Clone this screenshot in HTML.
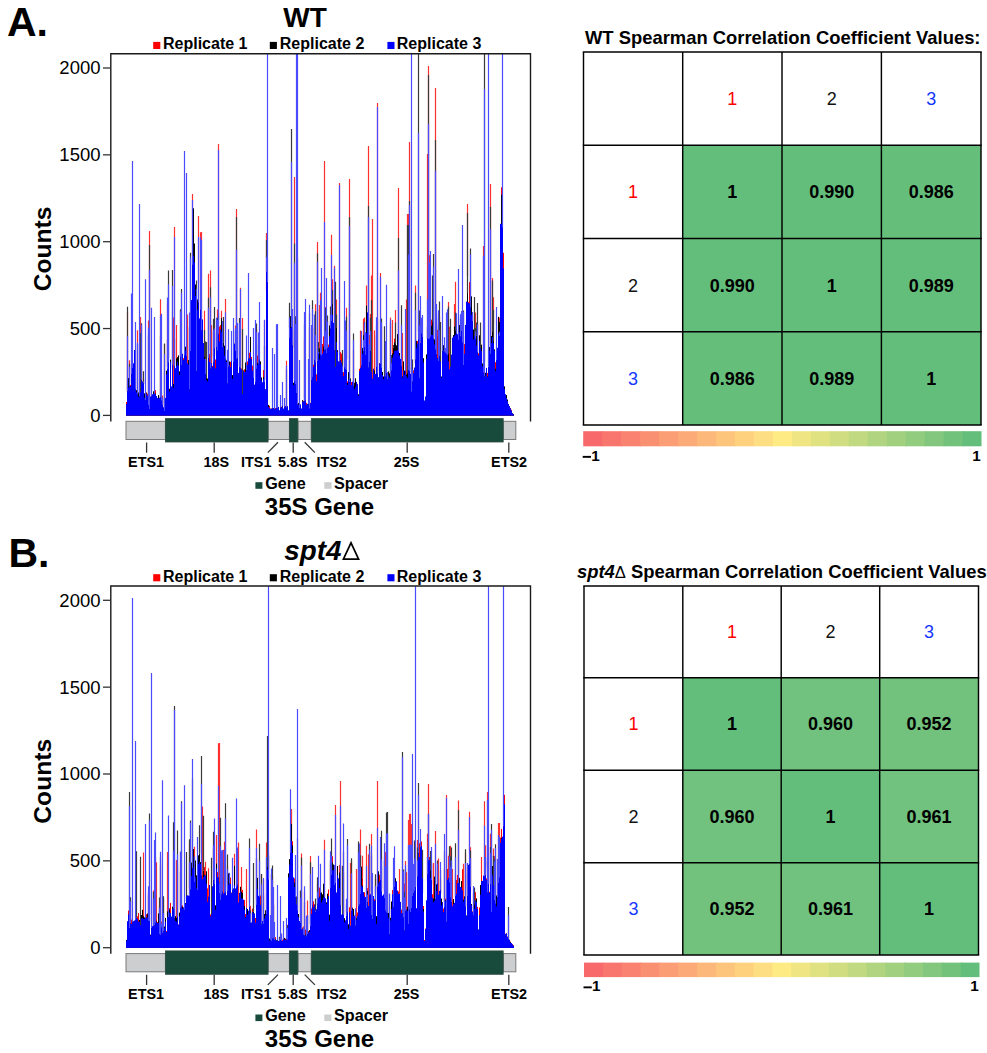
<!DOCTYPE html>
<html><head><meta charset="utf-8"><title>Figure</title>
<style>html,body{margin:0;padding:0;background:#fff;} body{width:987px;height:1053px;overflow:hidden;} svg{display:block;} text{font-family:"Liberation Sans", sans-serif;}</style>
</head><body>
<svg width="987" height="1053" viewBox="0 0 987 1053" font-family='"Liberation Sans", sans-serif' fill="#000">
<text x="7" y="35.9" font-size="41" font-weight="bold">A.</text>
<text x="8.5" y="567.1" font-size="41" font-weight="bold">B.</text>
<path stroke="#ff3030" stroke-width="1.2" fill="none" d="M127.5 390.9V311.7M129.5 386.2V360.2M137.5 397.2V330.2M140.5 393.7V316.9M141.5 386.9V326.7M143.5 384.5V378.7M148.5 405.7V320.5M149.5 408.2V230.9M152.5 396.1V395.0M160.5 397.5V299.2M162.5 406.7V395.6M164.5 410.8V344.6M167.5 366.7V303.5M173.5 385.5V317.5M174.5 360.3V227.0M176.5 364.5V325.0M180.5 355.3V340.9M187.5 363.4V314.4M189.5 395.0V326.4M192.5 255.8V194.0M193.5 279.0V256.4M198.5 283.2V216.0M200.5 324.8V232.3M201.5 352.2V232.0M204.5 357.1V310.7M205.5 376.7V355.6M208.5 350.8V273.7M210.5 368.8V270.6M211.5 367.8V325.0M213.5 358.5V332.0M216.5 356.6V333.1M217.5 343.5V309.5M218.5 336.2V144.0M221.5 326.8V310.8M225.5 348.3V299.0M227.5 387.1V360.4M235.5 354.7V325.6M236.5 353.5V209.0M239.5 355.2V330.2M240.5 368.0V287.7M242.5 391.5V318.0M256.5 370.8V329.1M258.5 357.8V351.6M264.5 378.9V320.6M266.5 290.9V233.0M286.5 407.2V360.7M292.5 347.9V321.0M294.5 382.7V177.0M295.5 378.5V348.4M297.5 405.1V258.0M304.5 397.7V339.7M309.5 409.5V328.6M314.5 365.1V324.3M315.5 366.5V304.3M317.5 359.4V242.0M318.5 359.7V349.2M319.5 368.9V305.0M320.5 347.0V292.8M324.5 361.8V161.0M325.5 360.4V307.1M327.5 339.6V332.0M330.5 341.8V322.3M331.5 316.5V234.8M332.5 334.9V279.3M334.5 358.2V265.7M336.5 351.8V299.6M339.5 354.9V183.0M342.5 363.8V358.2M345.5 374.8V334.9M346.5 359.4V307.7M349.5 383.5V179.0M353.5 388.6V349.7M360.5 368.8V330.5M363.5 357.3V318.8M364.5 340.6V317.5M365.5 360.3V335.3M366.5 327.7V285.4M368.5 366.6V146.0M369.5 354.0V335.1M370.5 346.1V314.0M371.5 378.3V275.6M372.5 382.5V219.0M374.5 372.9V330.5M376.5 374.0V325.2M377.5 371.1V103.0M380.5 361.0V273.0M381.5 359.8V326.7M385.5 368.8V341.9M387.5 381.2V378.3M390.5 368.3V317.4M391.5 370.3V365.5M392.5 352.4V320.0M393.5 358.1V356.2M395.5 337.9V310.0M398.5 353.2V188.0M402.5 376.3V333.0M406.5 382.2V299.6M407.5 379.6V214.0M408.5 377.4V214.0M409.5 366.3V142.0M411.5 386.4V359.0M412.5 379.4V376.4M415.5 363.3V285.4M419.5 379.2V322.2M421.5 341.4V318.6M427.5 339.8V154.0M428.5 346.8V66.0M429.5 338.7V255.2M435.5 345.2V88.0M436.5 363.0V324.2M437.5 336.0V330.0M438.5 371.4V313.3M439.5 354.7V316.4M444.5 352.3V350.9M445.5 366.0V350.9M447.5 360.9V337.6M448.5 363.1V302.0M449.5 370.2V326.8M454.5 331.2V304.0M455.5 337.7V281.7M460.5 344.0V342.7M461.5 324.0V322.4M463.5 352.9V336.5M467.5 276.0V204.0M471.5 314.6V310.7M472.5 319.5V315.7M475.5 344.5V312.4M477.5 341.6V322.6M483.5 370.6V246.0M490.5 359.9V184.0M492.5 337.6V278.0M493.5 323.8V297.2M498.5 334.1V318.0M499.5 337.2V317.5"/>
<path stroke="#ff0000" stroke-width="1" fill="none" d="M126.5 415.6V402.0M127.5 415.6V390.9M128.5 415.6V386.3M129.5 415.6V386.2M130.5 415.6V384.9M131.5 415.6V363.8M132.5 415.6V370.7M133.5 415.6V366.8M134.5 415.6V359.5M135.5 415.6V389.2M136.5 415.6V394.4M137.5 415.6V397.2M138.5 415.6V395.9M139.5 415.6V395.8M140.5 415.6V393.7M141.5 415.6V386.9M142.5 415.6V381.7M143.5 415.6V384.5M144.5 415.6V398.1M145.5 415.6V400.1M146.5 415.6V392.4M147.5 415.6V393.8M148.5 415.6V405.7M149.5 415.6V408.2M150.5 415.6V398.1M151.5 415.6V394.5M152.5 415.6V396.1M153.5 415.6V399.2M154.5 415.6V396.0M155.5 415.6V390.2M156.5 415.6V398.0M157.5 415.6V398.1M158.5 415.6V397.7M159.5 415.6V398.5M160.5 415.6V397.5M161.5 415.6V401.5M162.5 415.6V406.7M163.5 415.6V408.9M164.5 415.6V410.8M165.5 415.6V397.9M166.5 415.6V373.1M167.5 415.6V366.7M168.5 415.6V364.1M169.5 415.6V388.8M170.5 415.6V362.7M171.5 415.6V388.1M172.5 415.6V367.3M173.5 415.6V385.5M174.5 415.6V360.3M175.5 415.6V374.9M176.5 415.6V364.5M177.5 415.6V368.4M178.5 415.6V360.4M179.5 415.6V378.7M180.5 415.6V355.3M181.5 415.6V362.3M182.5 415.6V362.0M183.5 415.6V358.1M184.5 415.6V357.4M185.5 415.6V347.4M186.5 415.6V356.5M187.5 415.6V363.4M188.5 415.6V360.3M189.5 415.6V395.0M190.5 415.6V354.9M191.5 415.6V321.1M192.5 415.6V255.8M193.5 415.6V279.0M194.5 415.6V280.2M195.5 415.6V289.3M196.5 415.6V371.0M197.5 415.6V307.1M198.5 415.6V283.2M199.5 415.6V330.6M200.5 415.6V324.8M201.5 415.6V352.2M202.5 415.6V320.4M203.5 415.6V343.5M204.5 415.6V357.1M205.5 415.6V376.7M206.5 415.6V387.1M207.5 415.6V391.6M208.5 415.6V350.8M209.5 415.6V354.1M210.5 415.6V368.8M211.5 415.6V367.8M212.5 415.6V365.9M213.5 415.6V358.5M214.5 415.6V345.6M215.5 415.6V359.5M216.5 415.6V356.6M217.5 415.6V343.5M218.5 415.6V336.2M219.5 415.6V326.6M220.5 415.6V325.1M221.5 415.6V326.8M222.5 415.6V351.3M223.5 415.6V347.9M224.5 415.6V355.5M225.5 415.6V348.3M226.5 415.6V364.0M227.5 415.6V387.1M228.5 415.6V370.3M229.5 415.6V365.0M230.5 415.6V361.8M231.5 415.6V364.5M232.5 415.6V375.4M233.5 415.6V363.0M234.5 415.6V355.6M235.5 415.6V354.7M236.5 415.6V353.5M237.5 415.6V342.8M238.5 415.6V372.9M239.5 415.6V355.2M240.5 415.6V368.0M241.5 415.6V368.5M242.5 415.6V391.5M243.5 415.6V374.1M244.5 415.6V369.3M245.5 415.6V366.8M246.5 415.6V379.7M247.5 415.6V361.4M248.5 415.6V345.4M249.5 415.6V352.7M250.5 415.6V341.2M251.5 415.6V356.9M252.5 415.6V365.6M253.5 415.6V379.7M254.5 415.6V384.8M255.5 415.6V385.0M256.5 415.6V370.8M257.5 415.6V355.6M258.5 415.6V357.8M259.5 415.6V349.2M260.5 415.6V370.9M261.5 415.6V380.5M262.5 415.6V386.7M263.5 415.6V370.1M264.5 415.6V378.9M265.5 415.6V390.2M266.5 415.6V290.9M267.5 415.6V311.6M268.5 415.6V407.5M269.5 415.6V405.8M270.5 415.6V408.6M271.5 415.6V408.6M272.5 415.6V408.0M273.5 415.6V409.4M274.5 415.6V408.0M275.5 415.6V408.0M276.5 415.6V408.5M277.5 415.6V405.3M278.5 415.6V408.8M279.5 415.6V411.2M280.5 415.6V406.2M281.5 415.6V406.7M282.5 415.6V407.1M283.5 415.6V409.6M284.5 415.6V405.8M285.5 415.6V405.8M286.5 415.6V407.2M287.5 415.6V406.8M288.5 415.6V411.1M289.5 415.6V342.3M290.5 415.6V323.8M291.5 415.6V330.0M292.5 415.6V347.9M293.5 415.6V383.2M294.5 415.6V382.7M295.5 415.6V378.5M296.5 415.6V389.1M297.5 415.6V405.1M298.5 415.6V405.3M299.5 415.6V408.1M300.5 415.6V404.7M301.5 415.6V409.1M302.5 415.6V403.7M303.5 415.6V400.8M304.5 415.6V397.7M305.5 415.6V398.8M306.5 415.6V402.9M307.5 415.6V405.3M308.5 415.6V405.7M309.5 415.6V409.5M310.5 415.6V402.8M311.5 415.6V378.5M312.5 415.6V384.8M313.5 415.6V364.7M314.5 415.6V365.1M315.5 415.6V366.5M316.5 415.6V374.4M317.5 415.6V359.4M318.5 415.6V359.7M319.5 415.6V368.9M320.5 415.6V347.0M321.5 415.6V369.3M322.5 415.6V344.0M323.5 415.6V336.5M324.5 415.6V361.8M325.5 415.6V360.4M326.5 415.6V346.6M327.5 415.6V339.6M328.5 415.6V344.6M329.5 415.6V328.7M330.5 415.6V341.8M331.5 415.6V316.5M332.5 415.6V334.9M333.5 415.6V326.5M334.5 415.6V358.2M335.5 415.6V361.2M336.5 415.6V351.8M337.5 415.6V357.5M338.5 415.6V366.2M339.5 415.6V354.9M340.5 415.6V352.1M341.5 415.6V353.7M342.5 415.6V363.8M343.5 415.6V372.2M344.5 415.6V377.5M345.5 415.6V374.8M346.5 415.6V359.4M347.5 415.6V381.3M348.5 415.6V384.9M349.5 415.6V383.5M350.5 415.6V379.3M351.5 415.6V382.0M352.5 415.6V384.2M353.5 415.6V388.6M354.5 415.6V397.6M355.5 415.6V387.6M356.5 415.6V387.0M357.5 415.6V383.9M358.5 415.6V396.6M359.5 415.6V368.8M360.5 415.6V368.8M361.5 415.6V366.8M362.5 415.6V352.5M363.5 415.6V357.3M364.5 415.6V340.6M365.5 415.6V360.3M366.5 415.6V327.7M367.5 415.6V313.8M368.5 415.6V366.6M369.5 415.6V354.0M370.5 415.6V346.1M371.5 415.6V378.3M372.5 415.6V382.5M373.5 415.6V374.8M374.5 415.6V372.9M375.5 415.6V376.5M376.5 415.6V374.0M377.5 415.6V371.1M378.5 415.6V379.7M379.5 415.6V363.0M380.5 415.6V361.0M381.5 415.6V359.8M382.5 415.6V377.6M383.5 415.6V380.0M384.5 415.6V380.7M385.5 415.6V368.8M386.5 415.6V377.3M387.5 415.6V381.2M388.5 415.6V380.8M389.5 415.6V372.9M390.5 415.6V368.3M391.5 415.6V370.3M392.5 415.6V352.4M393.5 415.6V358.1M394.5 415.6V338.6M395.5 415.6V337.9M396.5 415.6V362.2M397.5 415.6V346.6M398.5 415.6V353.2M399.5 415.6V353.5M400.5 415.6V363.8M401.5 415.6V361.7M402.5 415.6V376.3M403.5 415.6V374.7M404.5 415.6V377.6M405.5 415.6V371.0M406.5 415.6V382.2M407.5 415.6V379.6M408.5 415.6V377.4M409.5 415.6V366.3M410.5 415.6V378.7M411.5 415.6V386.4M412.5 415.6V379.4M413.5 415.6V370.3M414.5 415.6V373.1M415.5 415.6V363.3M416.5 415.6V343.6M417.5 415.6V341.1M418.5 415.6V331.5M419.5 415.6V379.2M420.5 415.6V365.2M421.5 415.6V341.4M422.5 415.6V329.5M423.5 415.6V363.8M424.5 415.6V402.5M425.5 415.6V398.2M426.5 415.6V364.7M427.5 415.6V339.8M428.5 415.6V346.8M429.5 415.6V338.7M430.5 415.6V331.6M431.5 415.6V319.7M432.5 415.6V325.7M433.5 415.6V339.6M434.5 415.6V339.5M435.5 415.6V345.2M436.5 415.6V363.0M437.5 415.6V336.0M438.5 415.6V371.4M439.5 415.6V354.7M440.5 415.6V364.4M441.5 415.6V380.3M442.5 415.6V349.5M443.5 415.6V354.0M444.5 415.6V352.3M445.5 415.6V366.0M446.5 415.6V344.8M447.5 415.6V360.9M448.5 415.6V363.1M449.5 415.6V370.2M450.5 415.6V365.0M451.5 415.6V368.5M452.5 415.6V348.3M453.5 415.6V352.8M454.5 415.6V331.2M455.5 415.6V337.7M456.5 415.6V322.9M457.5 415.6V339.5M458.5 415.6V333.8M459.5 415.6V325.8M460.5 415.6V344.0M461.5 415.6V324.0M462.5 415.6V340.9M463.5 415.6V352.9M464.5 415.6V344.1M465.5 415.6V329.9M466.5 415.6V310.1M467.5 415.6V276.0M468.5 415.6V302.1M469.5 415.6V282.2M470.5 415.6V303.2M471.5 415.6V314.6M472.5 415.6V319.5M473.5 415.6V334.9M474.5 415.6V343.1M475.5 415.6V344.5M476.5 415.6V343.4M477.5 415.6V341.6M478.5 415.6V353.2M479.5 415.6V341.6M480.5 415.6V345.0M481.5 415.6V360.4M482.5 415.6V365.5M483.5 415.6V370.6M484.5 415.6V382.0M485.5 415.6V382.2M486.5 415.6V368.7M487.5 415.6V373.0M488.5 415.6V373.4M489.5 415.6V360.1M490.5 415.6V359.9M491.5 415.6V338.8M492.5 415.6V337.6M493.5 415.6V323.8M494.5 415.6V358.4M495.5 415.6V362.2M496.5 415.6V368.4M497.5 415.6V353.2M498.5 415.6V334.1M499.5 415.6V337.2M500.5 415.6V225.0M501.5 415.6V187.3M502.5 415.6V213.6M503.5 415.6V252.8M504.5 415.6V393.3M505.5 415.6V394.7M506.5 415.6V398.5M507.5 415.6V401.8M508.5 415.6V403.9M509.5 415.6V407.3M510.5 415.6V408.3M511.5 415.6V409.8M512.5 415.6V413.5M513.5 415.6V414.3"/>
<path stroke="#3a3a3a" stroke-width="1.2" fill="none" d="M127.5 392.4V306.7M129.5 383.0V363.8M137.5 395.0V344.0M140.5 398.1V333.0M141.5 383.9V323.2M143.5 383.4V371.2M148.5 404.6V335.3M149.5 407.9V245.0M160.5 398.2V336.2M162.5 403.8V397.7M164.5 410.6V343.6M167.5 367.0V339.6M168.5 358.0V270.6M172.5 368.8V270.0M174.5 368.2V338.8M180.5 357.8V309.2M181.5 359.1V289.0M189.5 389.8V327.6M190.5 362.2V252.7M196.5 361.2V280.5M204.5 356.7V330.0M205.5 372.0V341.5M206.5 378.1V342.0M208.5 358.0V297.8M210.5 376.0V287.3M213.5 356.8V318.7M214.5 354.7V307.0M217.5 345.0V317.5M218.5 320.2V312.9M223.5 342.8V317.0M227.5 383.4V357.7M235.5 355.5V330.9M236.5 357.2V217.0M239.5 365.9V317.9M242.5 397.0V329.0M256.5 369.1V323.5M258.5 351.6V344.8M264.5 380.1V346.1M266.5 258.0V240.0M286.5 407.0V369.5M289.5 327.5V302.7M291.5 333.7V129.0M292.5 347.6V330.5M294.5 378.7V243.5M295.5 383.9V316.3M304.5 403.0V324.5M309.5 408.8V312.9M312.5 388.1V300.2M314.5 365.7V327.9M315.5 376.8V311.3M317.5 359.7V253.3M318.5 356.2V342.0M325.5 354.7V308.1M327.5 334.5V315.6M330.5 331.5V306.5M332.5 304.0V290.0M335.5 370.2V281.7M336.5 327.6V314.4M342.5 373.2V350.0M345.5 360.0V331.2M346.5 358.5V316.8M349.5 388.7V217.0M353.5 387.7V333.6M364.5 347.5V322.1M365.5 370.1V334.8M368.5 368.3V206.0M369.5 360.5V345.8M370.5 339.6V317.7M371.5 381.9V300.0M376.5 369.9V335.6M377.5 376.1V318.8M381.5 369.9V318.6M384.5 380.3V326.2M385.5 376.7V347.5M387.5 379.6V372.4M390.5 376.5V323.3M391.5 370.0V355.1M393.5 347.6V345.0M395.5 344.2V322.5M398.5 346.0V238.0M401.5 359.7V305.2M407.5 373.2V225.0M408.5 371.0V225.0M409.5 380.8V201.0M411.5 396.7V366.8M412.5 381.8V359.5M415.5 364.0V292.8M418.5 332.3V54.0M419.5 377.9V310.4M421.5 336.9V321.7M427.5 338.3V327.3M428.5 340.6V75.0M432.5 322.1V275.6M433.5 338.3V254.0M435.5 354.5V140.0M436.5 352.3V317.8M438.5 356.3V326.6M439.5 357.4V301.5M440.5 363.5V321.9M444.5 359.9V346.6M447.5 359.5V323.2M448.5 353.5V306.4M450.5 370.5V318.8M455.5 330.7V312.6M460.5 340.1V318.1M461.5 324.8V316.5M463.5 362.0V310.6M467.5 293.5V213.0M470.5 323.2V248.4M474.5 344.9V297.0M475.5 339.8V327.9M476.5 335.6V322.5M477.5 358.9V302.9M480.5 359.0V322.5M484.5 361.6V54.0M490.5 350.8V207.0M492.5 331.9V280.5M493.5 341.5V310.0"/>
<path stroke="#000000" stroke-width="1" fill="none" d="M126.5 415.6V404.2M127.5 415.6V392.4M128.5 415.6V378.1M129.5 415.6V383.0M130.5 415.6V386.2M131.5 415.6V373.0M132.5 415.6V366.1M133.5 415.6V375.8M134.5 415.6V362.5M135.5 415.6V388.9M136.5 415.6V390.2M137.5 415.6V395.0M138.5 415.6V392.5M139.5 415.6V393.2M140.5 415.6V398.1M141.5 415.6V383.9M142.5 415.6V384.3M143.5 415.6V383.4M144.5 415.6V393.4M145.5 415.6V400.2M146.5 415.6V393.2M147.5 415.6V397.5M148.5 415.6V404.6M149.5 415.6V407.9M150.5 415.6V396.8M151.5 415.6V397.0M152.5 415.6V394.6M153.5 415.6V391.3M154.5 415.6V393.7M155.5 415.6V393.8M156.5 415.6V396.0M157.5 415.6V400.6M158.5 415.6V395.1M159.5 415.6V398.6M160.5 415.6V398.2M161.5 415.6V399.4M162.5 415.6V403.8M163.5 415.6V408.5M164.5 415.6V410.6M165.5 415.6V398.4M166.5 415.6V370.7M167.5 415.6V367.0M168.5 415.6V358.0M169.5 415.6V388.9M170.5 415.6V359.6M171.5 415.6V392.8M172.5 415.6V368.8M173.5 415.6V384.1M174.5 415.6V368.2M175.5 415.6V370.2M176.5 415.6V358.5M177.5 415.6V357.1M178.5 415.6V355.4M179.5 415.6V371.3M180.5 415.6V357.8M181.5 415.6V359.1M182.5 415.6V356.6M183.5 415.6V360.1M184.5 415.6V356.2M185.5 415.6V346.7M186.5 415.6V355.7M187.5 415.6V367.1M188.5 415.6V360.1M189.5 415.6V389.8M190.5 415.6V362.2M191.5 415.6V307.6M192.5 415.6V276.9M193.5 415.6V208.3M194.5 415.6V243.5M195.5 415.6V284.5M196.5 415.6V361.2M197.5 415.6V299.5M198.5 415.6V311.9M199.5 415.6V322.2M200.5 415.6V310.9M201.5 415.6V337.4M202.5 415.6V328.0M203.5 415.6V343.2M204.5 415.6V356.7M205.5 415.6V372.0M206.5 415.6V378.1M207.5 415.6V378.5M208.5 415.6V358.0M209.5 415.6V363.1M210.5 415.6V376.0M211.5 415.6V372.3M212.5 415.6V376.6M213.5 415.6V356.8M214.5 415.6V354.7M215.5 415.6V371.2M216.5 415.6V342.3M217.5 415.6V345.0M218.5 415.6V320.2M219.5 415.6V344.6M220.5 415.6V333.8M221.5 415.6V318.0M222.5 415.6V347.7M223.5 415.6V342.8M224.5 415.6V345.7M225.5 415.6V357.2M226.5 415.6V360.3M227.5 415.6V383.4M228.5 415.6V359.2M229.5 415.6V361.5M230.5 415.6V370.0M231.5 415.6V357.1M232.5 415.6V375.2M233.5 415.6V356.9M234.5 415.6V347.9M235.5 415.6V355.5M236.5 415.6V357.2M237.5 415.6V363.5M238.5 415.6V376.7M239.5 415.6V365.9M240.5 415.6V370.6M241.5 415.6V370.3M242.5 415.6V397.0M243.5 415.6V370.5M244.5 415.6V383.2M245.5 415.6V362.5M246.5 415.6V372.1M247.5 415.6V367.6M248.5 415.6V355.3M249.5 415.6V363.2M250.5 415.6V336.9M251.5 415.6V372.2M252.5 415.6V380.7M253.5 415.6V388.2M254.5 415.6V388.1M255.5 415.6V376.6M256.5 415.6V369.1M257.5 415.6V362.8M258.5 415.6V351.6M259.5 415.6V369.2M260.5 415.6V361.4M261.5 415.6V377.5M262.5 415.6V388.4M263.5 415.6V377.1M264.5 415.6V380.1M265.5 415.6V392.8M266.5 415.6V258.0M267.5 415.6V315.7M268.5 415.6V404.9M269.5 415.6V408.4M270.5 415.6V408.9M271.5 415.6V408.7M272.5 415.6V407.3M273.5 415.6V408.0M274.5 415.6V409.5M275.5 415.6V409.0M276.5 415.6V407.0M277.5 415.6V408.7M278.5 415.6V407.0M279.5 415.6V410.6M280.5 415.6V406.4M281.5 415.6V407.6M282.5 415.6V406.2M283.5 415.6V410.1M284.5 415.6V407.1M285.5 415.6V408.4M286.5 415.6V407.0M287.5 415.6V406.7M288.5 415.6V410.7M289.5 415.6V327.5M290.5 415.6V316.2M291.5 415.6V333.7M292.5 415.6V347.6M293.5 415.6V382.8M294.5 415.6V378.7M295.5 415.6V383.9M296.5 415.6V391.2M297.5 415.6V405.9M298.5 415.6V403.1M299.5 415.6V407.9M300.5 415.6V405.8M301.5 415.6V409.3M302.5 415.6V400.2M303.5 415.6V402.1M304.5 415.6V403.0M305.5 415.6V402.1M306.5 415.6V405.6M307.5 415.6V403.9M308.5 415.6V403.2M309.5 415.6V408.8M310.5 415.6V404.2M311.5 415.6V377.2M312.5 415.6V388.1M313.5 415.6V369.7M314.5 415.6V365.7M315.5 415.6V376.8M316.5 415.6V382.0M317.5 415.6V359.7M318.5 415.6V356.2M319.5 415.6V348.3M320.5 415.6V353.9M321.5 415.6V355.9M322.5 415.6V359.6M323.5 415.6V346.5M324.5 415.6V344.0M325.5 415.6V354.7M326.5 415.6V370.7M327.5 415.6V334.5M328.5 415.6V351.2M329.5 415.6V325.5M330.5 415.6V331.5M331.5 415.6V314.5M332.5 415.6V304.0M333.5 415.6V325.9M334.5 415.6V341.4M335.5 415.6V370.2M336.5 415.6V327.6M337.5 415.6V350.2M338.5 415.6V361.6M339.5 415.6V374.6M340.5 415.6V360.4M341.5 415.6V367.9M342.5 415.6V373.2M343.5 415.6V376.9M344.5 415.6V367.5M345.5 415.6V360.0M346.5 415.6V358.5M347.5 415.6V383.1M348.5 415.6V372.2M349.5 415.6V388.7M350.5 415.6V378.4M351.5 415.6V389.1M352.5 415.6V389.2M353.5 415.6V387.7M354.5 415.6V382.8M355.5 415.6V378.3M356.5 415.6V383.7M357.5 415.6V388.3M358.5 415.6V394.3M359.5 415.6V379.8M360.5 415.6V368.6M361.5 415.6V366.7M362.5 415.6V347.9M363.5 415.6V335.2M364.5 415.6V347.5M365.5 415.6V370.1M366.5 415.6V305.7M367.5 415.6V320.6M368.5 415.6V368.3M369.5 415.6V360.5M370.5 415.6V339.6M371.5 415.6V381.9M372.5 415.6V381.1M373.5 415.6V371.4M374.5 415.6V370.4M375.5 415.6V379.0M376.5 415.6V369.9M377.5 415.6V376.1M378.5 415.6V380.3M379.5 415.6V363.9M380.5 415.6V374.8M381.5 415.6V369.9M382.5 415.6V371.9M383.5 415.6V376.5M384.5 415.6V380.3M385.5 415.6V376.7M386.5 415.6V373.4M387.5 415.6V379.6M388.5 415.6V371.4M389.5 415.6V374.1M390.5 415.6V376.5M391.5 415.6V370.0M392.5 415.6V353.7M393.5 415.6V347.6M394.5 415.6V342.4M395.5 415.6V344.2M396.5 415.6V345.4M397.5 415.6V334.1M398.5 415.6V346.0M399.5 415.6V353.1M400.5 415.6V366.3M401.5 415.6V359.7M402.5 415.6V376.5M403.5 415.6V361.4M404.5 415.6V370.6M405.5 415.6V380.1M406.5 415.6V374.6M407.5 415.6V373.2M408.5 415.6V371.0M409.5 415.6V380.8M410.5 415.6V378.8M411.5 415.6V396.7M412.5 415.6V381.8M413.5 415.6V382.8M414.5 415.6V369.1M415.5 415.6V364.0M416.5 415.6V340.8M417.5 415.6V346.3M418.5 415.6V332.3M419.5 415.6V377.9M420.5 415.6V353.8M421.5 415.6V336.9M422.5 415.6V333.8M423.5 415.6V358.2M424.5 415.6V401.4M425.5 415.6V398.6M426.5 415.6V354.4M427.5 415.6V338.3M428.5 415.6V340.6M429.5 415.6V343.8M430.5 415.6V348.9M431.5 415.6V325.8M432.5 415.6V322.1M433.5 415.6V338.3M434.5 415.6V339.6M435.5 415.6V354.5M436.5 415.6V352.3M437.5 415.6V358.1M438.5 415.6V356.3M439.5 415.6V357.4M440.5 415.6V363.5M441.5 415.6V376.5M442.5 415.6V350.0M443.5 415.6V345.2M444.5 415.6V359.9M445.5 415.6V348.3M446.5 415.6V353.2M447.5 415.6V359.5M448.5 415.6V353.5M449.5 415.6V373.9M450.5 415.6V370.5M451.5 415.6V362.5M452.5 415.6V345.1M453.5 415.6V335.1M454.5 415.6V326.6M455.5 415.6V330.7M456.5 415.6V324.9M457.5 415.6V346.6M458.5 415.6V342.0M459.5 415.6V325.1M460.5 415.6V340.1M461.5 415.6V324.8M462.5 415.6V343.8M463.5 415.6V362.0M464.5 415.6V354.1M465.5 415.6V334.8M466.5 415.6V304.3M467.5 415.6V293.5M468.5 415.6V323.7M469.5 415.6V315.7M470.5 415.6V323.2M471.5 415.6V296.3M472.5 415.6V324.3M473.5 415.6V329.5M474.5 415.6V344.9M475.5 415.6V339.8M476.5 415.6V335.6M477.5 415.6V358.9M478.5 415.6V363.2M479.5 415.6V335.3M480.5 415.6V359.0M481.5 415.6V344.7M482.5 415.6V363.5M483.5 415.6V375.9M484.5 415.6V361.6M485.5 415.6V372.8M486.5 415.6V376.5M487.5 415.6V376.6M488.5 415.6V373.0M489.5 415.6V347.1M490.5 415.6V350.8M491.5 415.6V336.0M492.5 415.6V331.9M493.5 415.6V341.5M494.5 415.6V349.4M495.5 415.6V368.8M496.5 415.6V347.3M497.5 415.6V357.8M498.5 415.6V316.8M499.5 415.6V322.1M500.5 415.6V232.0M501.5 415.6V194.8M502.5 415.6V217.9M503.5 415.6V296.4M504.5 415.6V386.3M505.5 415.6V395.1M506.5 415.6V395.1M507.5 415.6V399.5M508.5 415.6V404.3M509.5 415.6V406.3M510.5 415.6V408.6M511.5 415.6V411.7M512.5 415.6V413.4M513.5 415.6V414.3"/>
<path stroke="#4a4aff" stroke-width="1.2" fill="none" d="M127.5 391.2V336.2M129.5 386.3V366.8M131.5 374.3V293.5M132.5 368.0V161.0M135.5 388.4V321.9M137.5 394.4V342.7M139.5 396.2V204.0M141.5 379.9V324.4M143.5 383.6V381.7M145.5 400.2V279.3M148.5 405.0V327.5M149.5 409.0V270.0M151.5 396.4V307.7M154.5 393.5V316.9M160.5 397.4V315.4M161.5 400.7V313.8M162.5 404.9V397.6M164.5 410.9V354.1M167.5 369.3V297.6M168.5 362.8V284.2M172.5 364.9V286.0M174.5 366.1V237.0M180.5 356.8V311.3M181.5 365.2V292.8M184.5 355.1V151.0M186.5 356.6V173.0M189.5 389.3V312.4M190.5 351.2V257.0M192.5 264.8V200.0M196.5 371.1V289.0M198.5 302.5V237.0M200.5 309.6V237.3M201.5 330.2V240.0M205.5 374.4V359.1M208.5 358.1V307.7M210.5 368.6V297.0M213.5 362.7V329.7M214.5 348.4V328.6M216.5 346.9V317.8M217.5 350.8V320.0M218.5 334.6V150.0M222.5 347.0V321.0M225.5 359.5V312.6M227.5 383.6V349.7M228.5 366.7V329.3M231.5 360.9V331.0M233.5 362.1V318.0M235.5 351.1V328.6M236.5 359.6V249.6M237.5 358.0V323.0M239.5 367.0V323.0M240.5 367.8V289.0M246.5 369.6V335.4M248.5 358.8V273.0M253.5 377.4V328.0M255.5 381.9V320.0M256.5 368.8V331.9M258.5 363.8V332.4M259.5 359.5V302.0M264.5 382.2V319.8M266.5 271.9V257.0M267.5 281.6V54.0M272.5 408.1V348.0M274.5 409.3V354.0M276.5 408.2V324.3M277.5 408.0V324.0M280.5 407.7V395.0M282.5 406.2V382.0M284.5 407.2V398.0M286.5 407.8V365.5M289.5 338.1V317.5M291.5 327.0V162.0M292.5 345.3V309.0M294.5 381.6V263.0M295.5 384.2V324.1M296.5 393.3V54.0M297.5 404.4V54.0M299.5 408.4V360.0M304.5 401.3V312.0M305.5 400.5V299.0M308.5 404.2V359.0M309.5 408.7V304.8M311.5 380.5V325.0M312.5 377.3V309.0M314.5 360.0V314.4M315.5 362.4V334.9M317.5 361.2V262.0M318.5 353.7V352.0M320.5 354.7V300.0M321.5 355.3V268.1M324.5 350.4V222.0M325.5 349.3V331.0M326.5 353.2V278.0M327.5 348.4V321.6M330.5 328.6V314.4M331.5 321.5V255.0M334.5 349.9V267.5M339.5 361.5V185.0M342.5 372.3V366.3M344.5 367.3V281.1M345.5 369.4V320.4M346.5 370.4V330.8M349.5 382.1V226.0M353.5 386.1V340.1M361.5 365.1V331.0M363.5 351.1V339.9M364.5 347.5V322.7M365.5 354.9V332.2M368.5 367.6V217.0M369.5 362.2V344.4M370.5 351.2V331.0M376.5 367.0V317.3M377.5 373.8V107.0M380.5 363.9V276.8M381.5 368.0V322.2M385.5 376.8V341.0M386.5 373.1V284.8M387.5 379.5V371.9M390.5 376.8V319.6M391.5 370.7V363.2M398.5 351.9V270.6M401.5 365.9V325.0M405.5 371.3V308.9M408.5 370.1V254.6M409.5 371.2V205.0M411.5 391.7V54.0M412.5 381.6V369.6M415.5 359.7V310.0M418.5 339.8V133.0M419.5 378.0V325.6M420.5 342.6V296.0M421.5 333.7V317.7M422.5 337.5V315.0M427.5 338.5V299.2M428.5 339.1V124.0M429.5 338.5V263.0M430.5 336.7V250.9M433.5 338.4V267.0M435.5 349.7V171.0M436.5 354.7V304.0M438.5 360.9V310.2M439.5 355.9V330.3M442.5 351.5V296.0M444.5 351.8V337.2M445.5 352.9V348.0M446.5 353.9V312.6M447.5 355.0V309.3M456.5 333.7V313.3M458.5 339.9V269.0M460.5 336.5V314.3M461.5 331.0V311.1M462.5 342.6V225.0M463.5 365.0V312.0M470.5 307.5V254.6M472.5 321.3V312.1M475.5 338.8V331.5M477.5 352.2V324.2M483.5 372.5V255.8M484.5 376.7V89.0M488.5 366.8V54.0M490.5 354.3V229.0M496.5 360.1V307.0M499.5 336.6V331.7M502.5 227.8V54.0"/>
<path stroke="#2a2aff" stroke-width="1" fill="none" d=""/>
<path stroke="#0000ff" stroke-width="1" fill="none" d="M126.5 415.6V404.2M127.5 415.6V391.2M128.5 415.6V387.4M129.5 415.6V386.3M130.5 415.6V386.5M131.5 415.6V374.3M132.5 415.6V368.0M133.5 415.6V363.3M134.5 415.6V350.0M135.5 415.6V388.4M136.5 415.6V392.4M137.5 415.6V394.4M138.5 415.6V396.8M139.5 415.6V396.2M140.5 415.6V392.3M141.5 415.6V379.9M142.5 415.6V381.6M143.5 415.6V383.6M144.5 415.6V397.9M145.5 415.6V400.2M146.5 415.6V393.9M147.5 415.6V395.5M148.5 415.6V405.0M149.5 415.6V409.0M150.5 415.6V396.6M151.5 415.6V396.4M152.5 415.6V394.5M153.5 415.6V393.9M154.5 415.6V393.5M155.5 415.6V394.3M156.5 415.6V396.1M157.5 415.6V397.9M158.5 415.6V398.4M159.5 415.6V397.7M160.5 415.6V397.4M161.5 415.6V400.7M162.5 415.6V404.9M163.5 415.6V407.3M164.5 415.6V410.9M165.5 415.6V398.1M166.5 415.6V374.4M167.5 415.6V369.3M168.5 415.6V362.8M169.5 415.6V391.4M170.5 415.6V361.8M171.5 415.6V386.4M172.5 415.6V364.9M173.5 415.6V387.9M174.5 415.6V366.1M175.5 415.6V368.2M176.5 415.6V365.8M177.5 415.6V361.6M178.5 415.6V365.5M179.5 415.6V375.0M180.5 415.6V356.8M181.5 415.6V365.2M182.5 415.6V353.8M183.5 415.6V360.1M184.5 415.6V355.1M185.5 415.6V350.6M186.5 415.6V356.6M187.5 415.6V363.3M188.5 415.6V364.6M189.5 415.6V389.3M190.5 415.6V351.2M191.5 415.6V300.1M192.5 415.6V264.8M193.5 415.6V255.7M194.5 415.6V262.3M195.5 415.6V296.0M196.5 415.6V371.1M197.5 415.6V309.9M198.5 415.6V302.5M199.5 415.6V318.4M200.5 415.6V309.6M201.5 415.6V330.2M202.5 415.6V319.4M203.5 415.6V343.2M204.5 415.6V358.9M205.5 415.6V374.4M206.5 415.6V380.0M207.5 415.6V381.4M208.5 415.6V358.1M209.5 415.6V361.8M210.5 415.6V368.6M211.5 415.6V363.3M212.5 415.6V367.1M213.5 415.6V362.7M214.5 415.6V348.4M215.5 415.6V368.4M216.5 415.6V346.9M217.5 415.6V350.8M218.5 415.6V334.6M219.5 415.6V341.5M220.5 415.6V329.5M221.5 415.6V332.2M222.5 415.6V347.0M223.5 415.6V346.6M224.5 415.6V355.6M225.5 415.6V359.5M226.5 415.6V362.0M227.5 415.6V383.6M228.5 415.6V366.7M229.5 415.6V365.0M230.5 415.6V367.2M231.5 415.6V360.9M232.5 415.6V378.9M233.5 415.6V362.1M234.5 415.6V343.6M235.5 415.6V351.1M236.5 415.6V359.6M237.5 415.6V358.0M238.5 415.6V373.0M239.5 415.6V367.0M240.5 415.6V367.8M241.5 415.6V369.4M242.5 415.6V394.1M243.5 415.6V370.7M244.5 415.6V372.1M245.5 415.6V371.8M246.5 415.6V369.6M247.5 415.6V365.0M248.5 415.6V358.8M249.5 415.6V358.3M250.5 415.6V352.0M251.5 415.6V359.2M252.5 415.6V370.8M253.5 415.6V377.4M254.5 415.6V384.7M255.5 415.6V381.9M256.5 415.6V368.8M257.5 415.6V364.9M258.5 415.6V363.8M259.5 415.6V359.5M260.5 415.6V364.4M261.5 415.6V380.4M262.5 415.6V382.2M263.5 415.6V379.3M264.5 415.6V382.2M265.5 415.6V389.1M266.5 415.6V271.9M267.5 415.6V281.6M268.5 415.6V407.1M269.5 415.6V407.7M270.5 415.6V408.9M271.5 415.6V409.2M272.5 415.6V408.1M273.5 415.6V408.2M274.5 415.6V409.3M275.5 415.6V408.8M276.5 415.6V408.2M277.5 415.6V408.0M278.5 415.6V407.2M279.5 415.6V410.3M280.5 415.6V407.7M281.5 415.6V407.6M282.5 415.6V406.2M283.5 415.6V408.6M284.5 415.6V407.2M285.5 415.6V406.4M286.5 415.6V407.8M287.5 415.6V406.3M288.5 415.6V410.4M289.5 415.6V338.1M290.5 415.6V328.1M291.5 415.6V327.0M292.5 415.6V345.3M293.5 415.6V385.0M294.5 415.6V381.6M295.5 415.6V384.2M296.5 415.6V393.3M297.5 415.6V404.4M298.5 415.6V404.7M299.5 415.6V408.4M300.5 415.6V404.5M301.5 415.6V408.5M302.5 415.6V401.7M303.5 415.6V401.6M304.5 415.6V401.3M305.5 415.6V400.5M306.5 415.6V404.7M307.5 415.6V404.2M308.5 415.6V404.2M309.5 415.6V408.7M310.5 415.6V403.2M311.5 415.6V380.5M312.5 415.6V377.3M313.5 415.6V366.9M314.5 415.6V360.0M315.5 415.6V362.4M316.5 415.6V380.9M317.5 415.6V361.2M318.5 415.6V353.7M319.5 415.6V359.4M320.5 415.6V354.7M321.5 415.6V355.3M322.5 415.6V353.9M323.5 415.6V351.3M324.5 415.6V350.4M325.5 415.6V349.3M326.5 415.6V353.2M327.5 415.6V348.4M328.5 415.6V347.1M329.5 415.6V336.2M330.5 415.6V328.6M331.5 415.6V321.5M332.5 415.6V315.1M333.5 415.6V322.8M334.5 415.6V349.9M335.5 415.6V366.8M336.5 415.6V342.1M337.5 415.6V351.6M338.5 415.6V361.5M339.5 415.6V361.5M340.5 415.6V360.5M341.5 415.6V362.7M342.5 415.6V372.3M343.5 415.6V376.2M344.5 415.6V367.3M345.5 415.6V369.4M346.5 415.6V370.4M347.5 415.6V384.8M348.5 415.6V379.7M349.5 415.6V382.1M350.5 415.6V380.7M351.5 415.6V385.0M352.5 415.6V381.7M353.5 415.6V386.1M354.5 415.6V389.3M355.5 415.6V386.8M356.5 415.6V381.9M357.5 415.6V384.4M358.5 415.6V395.8M359.5 415.6V370.9M360.5 415.6V367.6M361.5 415.6V365.1M362.5 415.6V353.9M363.5 415.6V351.1M364.5 415.6V347.5M365.5 415.6V354.9M366.5 415.6V333.3M367.5 415.6V312.4M368.5 415.6V367.6M369.5 415.6V362.2M370.5 415.6V351.2M371.5 415.6V372.2M372.5 415.6V378.8M373.5 415.6V368.7M374.5 415.6V374.0M375.5 415.6V373.9M376.5 415.6V367.0M377.5 415.6V373.8M378.5 415.6V377.1M379.5 415.6V363.6M380.5 415.6V363.9M381.5 415.6V368.0M382.5 415.6V375.0M383.5 415.6V379.2M384.5 415.6V376.1M385.5 415.6V376.8M386.5 415.6V373.1M387.5 415.6V379.5M388.5 415.6V375.4M389.5 415.6V377.5M390.5 415.6V376.8M391.5 415.6V370.7M392.5 415.6V357.7M393.5 415.6V354.5M394.5 415.6V350.9M395.5 415.6V350.7M396.5 415.6V350.5M397.5 415.6V350.3M398.5 415.6V351.9M399.5 415.6V355.4M400.5 415.6V358.9M401.5 415.6V365.9M402.5 415.6V377.6M403.5 415.6V370.5M404.5 415.6V374.7M405.5 415.6V371.3M406.5 415.6V376.3M407.5 415.6V377.9M408.5 415.6V370.1M409.5 415.6V371.2M410.5 415.6V373.8M411.5 415.6V391.7M412.5 415.6V381.6M413.5 415.6V373.2M414.5 415.6V367.5M415.5 415.6V359.7M416.5 415.6V348.4M417.5 415.6V343.6M418.5 415.6V339.8M419.5 415.6V378.0M420.5 415.6V342.6M421.5 415.6V333.7M422.5 415.6V337.5M423.5 415.6V362.4M424.5 415.6V400.5M425.5 415.6V396.5M426.5 415.6V359.1M427.5 415.6V338.5M428.5 415.6V339.1M429.5 415.6V338.5M430.5 415.6V336.7M431.5 415.6V334.9M432.5 415.6V335.0M433.5 415.6V338.4M434.5 415.6V344.5M435.5 415.6V349.7M436.5 415.6V354.7M437.5 415.6V358.8M438.5 415.6V360.9M439.5 415.6V355.9M440.5 415.6V361.2M441.5 415.6V377.6M442.5 415.6V351.5M443.5 415.6V350.4M444.5 415.6V351.8M445.5 415.6V352.9M446.5 415.6V353.9M447.5 415.6V355.0M448.5 415.6V361.2M449.5 415.6V369.4M450.5 415.6V366.6M451.5 415.6V354.7M452.5 415.6V337.7M453.5 415.6V336.7M454.5 415.6V335.6M455.5 415.6V334.5M456.5 415.6V333.7M457.5 415.6V334.2M458.5 415.6V339.9M459.5 415.6V332.1M460.5 415.6V336.5M461.5 415.6V331.0M462.5 415.6V342.6M463.5 415.6V365.0M464.5 415.6V353.8M465.5 415.6V324.9M466.5 415.6V301.6M467.5 415.6V302.2M468.5 415.6V302.8M469.5 415.6V303.4M470.5 415.6V307.5M471.5 415.6V315.1M472.5 415.6V321.3M473.5 415.6V339.4M474.5 415.6V336.0M475.5 415.6V338.8M476.5 415.6V345.7M477.5 415.6V352.2M478.5 415.6V355.4M479.5 415.6V341.0M480.5 415.6V348.1M481.5 415.6V351.1M482.5 415.6V366.6M483.5 415.6V372.5M484.5 415.6V376.7M485.5 415.6V375.5M486.5 415.6V367.9M487.5 415.6V376.8M488.5 415.6V366.8M489.5 415.6V350.7M490.5 415.6V354.3M491.5 415.6V343.1M492.5 415.6V337.1M493.5 415.6V343.1M494.5 415.6V350.7M495.5 415.6V371.4M496.5 415.6V360.1M497.5 415.6V347.8M498.5 415.6V333.4M499.5 415.6V336.6M500.5 415.6V223.8M501.5 415.6V223.8M502.5 415.6V227.8M503.5 415.6V268.5M504.5 415.6V389.0M505.5 415.6V394.2M506.5 415.6V398.1M507.5 415.6V401.1M508.5 415.6V404.2M509.5 415.6V406.3M510.5 415.6V408.5M511.5 415.6V410.6M512.5 415.6V413.4M513.5 415.6V414.3"/>
<path d="M110.8 421.5V53.7H530.5V421.5" fill="none" stroke="#1a1a1a" stroke-width="1.4"/>
<line x1="103" y1="68.00" x2="110.8" y2="68.00" stroke="#333" stroke-width="1.3"/>
<text x="100.5" y="74.40" text-anchor="end" font-size="18.5">2000</text>
<line x1="103" y1="154.85" x2="110.8" y2="154.85" stroke="#333" stroke-width="1.3"/>
<text x="100.5" y="161.25" text-anchor="end" font-size="18.5">1500</text>
<line x1="103" y1="241.70" x2="110.8" y2="241.70" stroke="#333" stroke-width="1.3"/>
<text x="100.5" y="248.10" text-anchor="end" font-size="18.5">1000</text>
<line x1="103" y1="328.55" x2="110.8" y2="328.55" stroke="#333" stroke-width="1.3"/>
<text x="100.5" y="334.95" text-anchor="end" font-size="18.5">500</text>
<line x1="103" y1="415.40" x2="110.8" y2="415.40" stroke="#333" stroke-width="1.3"/>
<text x="100.5" y="421.80" text-anchor="end" font-size="18.5">0</text>
<text transform="translate(51 249) rotate(-90)" text-anchor="middle" font-size="24.6" font-weight="bold">Counts</text>
<rect x="153.2" y="41.9" width="7.1" height="7.1" fill="#ff0000"/>
<text x="163" y="49.2" font-size="16" font-weight="bold">Replicate 1</text>
<rect x="269.8" y="41.9" width="7.1" height="7.1" fill="#000"/>
<text x="279.8" y="49.2" font-size="16" font-weight="bold">Replicate 2</text>
<rect x="387.4" y="41.9" width="7.1" height="7.1" fill="#0000ff"/>
<text x="396.8" y="49.2" font-size="16" font-weight="bold">Replicate 3</text>
<text x="305" y="26.7" text-anchor="middle" font-size="28" font-weight="bold">WT</text>
<rect x="126" y="421.3" width="39.4" height="18.2" fill="#cdcecf" stroke="#7a7a7a" stroke-width="1"/>
<rect x="268.1" y="421.3" width="21.3" height="18.2" fill="#cdcecf" stroke="#7a7a7a" stroke-width="1"/>
<rect x="297.9" y="421.3" width="13.4" height="18.2" fill="#cdcecf" stroke="#7a7a7a" stroke-width="1"/>
<rect x="503.2" y="421.3" width="12.6" height="18.2" fill="#cdcecf" stroke="#7a7a7a" stroke-width="1"/>
<rect x="165.4" y="418.6" width="102.7" height="23.4" fill="#184b3b" stroke="#2e4a40" stroke-width="0.8"/>
<rect x="289.4" y="418.6" width="8.5" height="23.4" fill="#184b3b" stroke="#2e4a40" stroke-width="0.8"/>
<rect x="311.3" y="418.6" width="191.9" height="23.4" fill="#184b3b" stroke="#2e4a40" stroke-width="0.8"/>
<line x1="146.6" y1="442.5" x2="146.6" y2="452.7" stroke="#333" stroke-width="1.3"/>
<line x1="214.2" y1="442.5" x2="214.2" y2="452.7" stroke="#333" stroke-width="1.3"/>
<line x1="293.2" y1="442.5" x2="293.2" y2="452.7" stroke="#333" stroke-width="1.3"/>
<line x1="407.2" y1="442.5" x2="407.2" y2="452.7" stroke="#333" stroke-width="1.3"/>
<line x1="508.8" y1="442.5" x2="508.8" y2="452.7" stroke="#333" stroke-width="1.3"/>
<line x1="278" y1="442.3" x2="267.8" y2="452.6" stroke="#333" stroke-width="1.3"/>
<line x1="304.7" y1="442.3" x2="314.9" y2="452.6" stroke="#333" stroke-width="1.3"/>
<text x="146.1" y="466.5" text-anchor="middle" font-size="14.4" font-weight="bold">ETS1</text>
<text x="216.2" y="466.5" text-anchor="middle" font-size="14.4" font-weight="bold">18S</text>
<text x="256.2" y="466.5" text-anchor="middle" font-size="14.4" font-weight="bold">ITS1</text>
<text x="292.7" y="466.5" text-anchor="middle" font-size="14.4" font-weight="bold">5.8S</text>
<text x="331.6" y="466.5" text-anchor="middle" font-size="14.4" font-weight="bold">ITS2</text>
<text x="406.6" y="466.5" text-anchor="middle" font-size="14.4" font-weight="bold">25S</text>
<text x="509.1" y="466.5" text-anchor="middle" font-size="14.4" font-weight="bold">ETS2</text>
<rect x="255.4" y="482.2" width="7" height="6.6" fill="#184b3b"/>
<text x="265.2" y="489" font-size="16.2" font-weight="bold">Gene</text>
<rect x="324.3" y="482.2" width="7.2" height="6.6" fill="#cdcecf"/>
<text x="334" y="489" font-size="16.2" font-weight="bold">Spacer</text>
<text x="264.8" y="514.9" font-size="24" font-weight="bold">35S Gene</text>
<path stroke="#ff3030" stroke-width="1.2" fill="none" d="M130.5 925.5V900.6M143.5 919.7V852.5M148.5 922.4V891.5M153.5 927.7V890.5M155.5 924.4V856.5M156.5 919.2V862.3M159.5 933.9V906.2M160.5 932.7V864.8M161.5 925.8V921.6M163.5 934.7V898.9M167.5 916.6V851.9M176.5 928.3V859.9M177.5 920.7V866.6M180.5 912.6V851.9M189.5 904.5V843.0M194.5 875.6V846.8M202.5 874.9V806.5M205.5 874.9V861.7M208.5 902.9V868.3M213.5 889.9V849.4M216.5 876.7V835.0M218.5 885.6V743.3M219.5 884.1V743.0M221.5 904.3V859.1M222.5 896.6V855.1M223.5 898.3V849.7M224.5 885.0V841.7M227.5 888.1V865.5M229.5 890.8V884.3M234.5 887.2V853.7M237.5 886.2V850.9M238.5 905.1V842.4M241.5 903.7V867.0M246.5 907.4V869.0M250.5 921.2V905.8M256.5 899.0V829.6M261.5 924.6V874.0M263.5 923.1V879.9M266.5 909.5V842.4M268.5 868.4V853.1M271.5 942.0V874.8M272.5 938.5V876.3M273.5 939.2V903.2M281.5 940.2V934.1M287.5 939.8V924.7M291.5 842.8V809.1M296.5 903.1V896.8M300.5 920.5V890.9M301.5 927.4V853.5M303.5 932.9V926.6M304.5 936.0V891.4M306.5 935.6V915.7M307.5 931.3V900.4M310.5 929.1V856.1M315.5 911.3V906.9M317.5 891.4V882.9M324.5 897.0V839.7M330.5 892.8V864.8M334.5 874.5V867.6M335.5 894.6V805.0M339.5 885.9V865.0M340.5 904.9V781.0M343.5 916.9V872.3M350.5 929.3V863.0M351.5 913.1V860.6M355.5 925.0V913.9M356.5 922.2V869.0M358.5 905.4V869.4M359.5 911.8V854.6M360.5 890.7V829.5M362.5 877.6V855.7M366.5 905.2V845.7M367.5 904.7V888.1M368.5 912.8V854.4M369.5 898.5V852.2M371.5 915.9V834.0M375.5 894.1V879.2M377.5 891.9V781.0M381.5 892.4V866.9M384.5 901.3V856.4M385.5 908.7V851.9M389.5 933.8V906.4M399.5 899.8V869.0M403.5 913.4V872.8M404.5 929.3V883.5M405.5 916.5V861.1M406.5 913.8V872.3M408.5 926.4V820.0M409.5 910.4V814.0M410.5 914.7V813.8M411.5 910.3V823.9M412.5 898.0V888.8M413.5 894.0V867.9M414.5 899.9V869.2M417.5 875.8V840.0M427.5 881.5V833.8M428.5 850.7V783.9M431.5 885.6V864.2M433.5 910.1V863.0M435.5 904.4V831.0M437.5 879.2V866.6M438.5 898.2V858.4M440.5 893.7V878.5M444.5 903.2V869.5M446.5 924.1V795.0M448.5 883.7V855.7M449.5 874.3V853.3M450.5 901.8V845.7M451.5 907.1V868.8M452.5 909.8V869.0M455.5 903.4V873.6M458.5 886.9V800.5M463.5 908.8V863.7M465.5 906.0V853.0M467.5 887.5V868.1M469.5 852.8V811.8M470.5 892.6V847.2M473.5 912.7V892.7M474.5 906.7V895.1M481.5 874.4V857.0M484.5 877.9V801.2M485.5 871.8V845.2M487.5 897.6V792.0M490.5 892.3V833.7M493.5 873.0V848.4M494.5 897.8V855.9M495.5 911.2V858.1M498.5 896.5V823.0M499.5 873.6V823.1"/>
<path stroke="#ff0000" stroke-width="1" fill="none" d="M126.5 947.9V941.2M127.5 947.9V924.4M128.5 947.9V910.6M129.5 947.9V930.1M130.5 947.9V925.5M131.5 947.9V919.6M132.5 947.9V924.5M133.5 947.9V921.2M134.5 947.9V921.1M135.5 947.9V916.7M136.5 947.9V920.8M137.5 947.9V916.4M138.5 947.9V913.0M139.5 947.9V922.7M140.5 947.9V926.8M141.5 947.9V915.9M142.5 947.9V916.1M143.5 947.9V919.7M144.5 947.9V918.3M145.5 947.9V905.4M146.5 947.9V914.2M147.5 947.9V924.3M148.5 947.9V922.4M149.5 947.9V915.8M150.5 947.9V934.9M151.5 947.9V928.7M152.5 947.9V929.1M153.5 947.9V927.7M154.5 947.9V924.0M155.5 947.9V924.4M156.5 947.9V919.2M157.5 947.9V922.0M158.5 947.9V925.2M159.5 947.9V933.9M160.5 947.9V932.7M161.5 947.9V925.8M162.5 947.9V933.7M163.5 947.9V934.7M164.5 947.9V928.8M165.5 947.9V918.3M166.5 947.9V931.1M167.5 947.9V916.6M168.5 947.9V920.8M169.5 947.9V908.1M170.5 947.9V902.9M171.5 947.9V918.4M172.5 947.9V908.0M173.5 947.9V911.3M174.5 947.9V916.7M175.5 947.9V920.2M176.5 947.9V928.3M177.5 947.9V920.7M178.5 947.9V924.5M179.5 947.9V917.4M180.5 947.9V912.6M181.5 947.9V906.6M182.5 947.9V905.4M183.5 947.9V907.5M184.5 947.9V916.4M185.5 947.9V904.0M186.5 947.9V897.6M187.5 947.9V899.4M188.5 947.9V896.9M189.5 947.9V904.5M190.5 947.9V891.6M191.5 947.9V868.6M192.5 947.9V869.7M193.5 947.9V858.6M194.5 947.9V875.6M195.5 947.9V875.9M196.5 947.9V880.0M197.5 947.9V878.2M198.5 947.9V879.6M199.5 947.9V868.5M200.5 947.9V862.2M201.5 947.9V859.0M202.5 947.9V874.9M203.5 947.9V875.2M204.5 947.9V867.1M205.5 947.9V874.9M206.5 947.9V890.1M207.5 947.9V888.4M208.5 947.9V902.9M209.5 947.9V887.1M210.5 947.9V914.5M211.5 947.9V921.3M212.5 947.9V889.1M213.5 947.9V889.9M214.5 947.9V889.5M215.5 947.9V914.2M216.5 947.9V876.7M217.5 947.9V872.1M218.5 947.9V885.6M219.5 947.9V884.1M220.5 947.9V902.1M221.5 947.9V904.3M222.5 947.9V896.6M223.5 947.9V898.3M224.5 947.9V885.0M225.5 947.9V888.1M226.5 947.9V904.6M227.5 947.9V888.1M228.5 947.9V882.8M229.5 947.9V890.8M230.5 947.9V877.5M231.5 947.9V892.5M232.5 947.9V886.9M233.5 947.9V893.3M234.5 947.9V887.2M235.5 947.9V896.8M236.5 947.9V892.0M237.5 947.9V886.2M238.5 947.9V905.1M239.5 947.9V897.9M240.5 947.9V887.8M241.5 947.9V903.7M242.5 947.9V889.9M243.5 947.9V901.7M244.5 947.9V900.1M245.5 947.9V914.0M246.5 947.9V907.4M247.5 947.9V911.0M248.5 947.9V912.4M249.5 947.9V906.0M250.5 947.9V921.2M251.5 947.9V925.3M252.5 947.9V908.6M253.5 947.9V917.3M254.5 947.9V918.7M255.5 947.9V918.0M256.5 947.9V899.0M257.5 947.9V890.1M258.5 947.9V897.6M259.5 947.9V887.2M260.5 947.9V895.6M261.5 947.9V924.6M262.5 947.9V922.9M263.5 947.9V923.1M264.5 947.9V924.4M265.5 947.9V912.0M266.5 947.9V909.5M267.5 947.9V871.5M268.5 947.9V868.4M269.5 947.9V939.6M270.5 947.9V940.1M271.5 947.9V942.0M272.5 947.9V938.5M273.5 947.9V939.2M274.5 947.9V940.0M275.5 947.9V937.2M276.5 947.9V941.1M277.5 947.9V942.5M278.5 947.9V941.4M279.5 947.9V939.8M280.5 947.9V939.5M281.5 947.9V940.2M282.5 947.9V939.7M283.5 947.9V939.8M284.5 947.9V940.1M285.5 947.9V938.6M286.5 947.9V938.0M287.5 947.9V939.8M288.5 947.9V873.9M289.5 947.9V868.1M290.5 947.9V855.8M291.5 947.9V842.8M292.5 947.9V841.2M293.5 947.9V884.1M294.5 947.9V878.4M295.5 947.9V905.3M296.5 947.9V903.1M297.5 947.9V909.3M298.5 947.9V917.0M299.5 947.9V923.4M300.5 947.9V920.5M301.5 947.9V927.4M302.5 947.9V927.6M303.5 947.9V932.9M304.5 947.9V936.0M305.5 947.9V929.7M306.5 947.9V935.6M307.5 947.9V931.3M308.5 947.9V931.1M309.5 947.9V930.9M310.5 947.9V929.1M311.5 947.9V908.5M312.5 947.9V904.1M313.5 947.9V901.3M314.5 947.9V904.3M315.5 947.9V911.3M316.5 947.9V912.3M317.5 947.9V891.4M318.5 947.9V888.8M319.5 947.9V887.6M320.5 947.9V886.7M321.5 947.9V904.9M322.5 947.9V900.2M323.5 947.9V906.3M324.5 947.9V897.0M325.5 947.9V900.5M326.5 947.9V907.7M327.5 947.9V897.4M328.5 947.9V889.5M329.5 947.9V922.3M330.5 947.9V892.8M331.5 947.9V880.1M332.5 947.9V856.2M333.5 947.9V871.9M334.5 947.9V874.5M335.5 947.9V894.6M336.5 947.9V897.6M337.5 947.9V871.9M338.5 947.9V896.5M339.5 947.9V885.9M340.5 947.9V904.9M341.5 947.9V917.6M342.5 947.9V917.9M343.5 947.9V916.9M344.5 947.9V920.1M345.5 947.9V922.9M346.5 947.9V912.7M347.5 947.9V916.1M348.5 947.9V929.4M349.5 947.9V907.3M350.5 947.9V929.3M351.5 947.9V913.1M352.5 947.9V907.5M353.5 947.9V923.4M354.5 947.9V916.8M355.5 947.9V925.0M356.5 947.9V922.2M357.5 947.9V912.5M358.5 947.9V905.4M359.5 947.9V911.8M360.5 947.9V890.7M361.5 947.9V891.0M362.5 947.9V877.6M363.5 947.9V898.9M364.5 947.9V892.3M365.5 947.9V898.0M366.5 947.9V905.2M367.5 947.9V904.7M368.5 947.9V912.8M369.5 947.9V898.5M370.5 947.9V893.9M371.5 947.9V915.9M372.5 947.9V917.4M373.5 947.9V899.0M374.5 947.9V899.2M375.5 947.9V894.1M376.5 947.9V921.0M377.5 947.9V891.9M378.5 947.9V889.9M379.5 947.9V874.7M380.5 947.9V871.2M381.5 947.9V892.4M382.5 947.9V898.6M383.5 947.9V896.3M384.5 947.9V901.3M385.5 947.9V908.7M386.5 947.9V915.2M387.5 947.9V917.9M388.5 947.9V915.9M389.5 947.9V933.8M390.5 947.9V924.5M391.5 947.9V907.6M392.5 947.9V890.0M393.5 947.9V909.0M394.5 947.9V879.1M395.5 947.9V883.6M396.5 947.9V883.1M397.5 947.9V890.5M398.5 947.9V891.5M399.5 947.9V899.8M400.5 947.9V903.5M401.5 947.9V909.7M402.5 947.9V913.1M403.5 947.9V913.4M404.5 947.9V929.3M405.5 947.9V916.5M406.5 947.9V913.8M407.5 947.9V910.7M408.5 947.9V926.4M409.5 947.9V910.4M410.5 947.9V914.7M411.5 947.9V910.3M412.5 947.9V898.0M413.5 947.9V894.0M414.5 947.9V899.9M415.5 947.9V871.4M416.5 947.9V910.3M417.5 947.9V875.8M418.5 947.9V854.2M419.5 947.9V843.2M420.5 947.9V848.0M421.5 947.9V841.5M422.5 947.9V888.1M423.5 947.9V906.0M424.5 947.9V940.0M425.5 947.9V928.5M426.5 947.9V904.6M427.5 947.9V881.5M428.5 947.9V850.7M429.5 947.9V857.0M430.5 947.9V884.8M431.5 947.9V885.6M432.5 947.9V894.3M433.5 947.9V910.1M434.5 947.9V903.5M435.5 947.9V904.4M436.5 947.9V893.5M437.5 947.9V879.2M438.5 947.9V898.2M439.5 947.9V899.1M440.5 947.9V893.7M441.5 947.9V902.3M442.5 947.9V902.3M443.5 947.9V908.5M444.5 947.9V903.2M445.5 947.9V898.6M446.5 947.9V924.1M447.5 947.9V869.0M448.5 947.9V883.7M449.5 947.9V874.3M450.5 947.9V901.8M451.5 947.9V907.1M452.5 947.9V909.8M453.5 947.9V909.5M454.5 947.9V906.3M455.5 947.9V903.4M456.5 947.9V879.9M457.5 947.9V875.0M458.5 947.9V886.9M459.5 947.9V877.8M460.5 947.9V887.7M461.5 947.9V897.0M462.5 947.9V869.2M463.5 947.9V908.8M464.5 947.9V903.4M465.5 947.9V906.0M466.5 947.9V919.9M467.5 947.9V887.5M468.5 947.9V867.2M469.5 947.9V852.8M470.5 947.9V892.6M471.5 947.9V904.1M472.5 947.9V911.4M473.5 947.9V912.7M474.5 947.9V906.7M475.5 947.9V892.2M476.5 947.9V904.9M477.5 947.9V906.9M478.5 947.9V932.3M479.5 947.9V907.5M480.5 947.9V895.3M481.5 947.9V874.4M482.5 947.9V890.9M483.5 947.9V885.0M484.5 947.9V877.9M485.5 947.9V871.8M486.5 947.9V878.4M487.5 947.9V897.6M488.5 947.9V873.8M489.5 947.9V891.9M490.5 947.9V892.3M491.5 947.9V908.9M492.5 947.9V869.0M493.5 947.9V873.0M494.5 947.9V897.8M495.5 947.9V911.2M496.5 947.9V904.0M497.5 947.9V899.9M498.5 947.9V896.5M499.5 947.9V873.6M500.5 947.9V837.7M501.5 947.9V828.9M502.5 947.9V861.0M503.5 947.9V819.6M504.5 947.9V794.8M505.5 947.9V933.7M506.5 947.9V935.8M507.5 947.9V936.5M508.5 947.9V938.1M509.5 947.9V940.5M510.5 947.9V941.5M511.5 947.9V943.1M512.5 947.9V944.3M513.5 947.9V945.2"/>
<path stroke="#3a3a3a" stroke-width="1.2" fill="none" d="M129.5 927.8V792.0M130.5 924.4V897.2M136.5 917.6V851.2M140.5 926.2V856.8M148.5 923.2V894.7M149.5 914.1V813.6M153.5 926.1V891.9M155.5 918.6V864.1M159.5 932.8V897.4M160.5 937.2V856.9M161.5 928.5V927.2M163.5 930.7V896.3M173.5 918.1V822.2M174.5 918.5V706.0M177.5 922.0V830.4M180.5 910.1V871.8M181.5 912.1V801.2M186.5 901.1V851.9M189.5 888.0V839.3M190.5 884.9V820.4M192.5 864.5V779.0M194.5 885.1V869.0M199.5 853.8V825.3M201.5 875.0V756.0M203.5 870.6V815.8M211.5 913.9V857.7M213.5 879.1V831.8M219.5 891.4V882.7M220.5 900.1V817.8M221.5 890.2V854.3M222.5 896.9V860.7M224.5 885.3V862.8M225.5 894.2V803.2M227.5 883.3V854.5M237.5 888.6V857.4M249.5 902.8V838.4M250.5 922.3V910.3M253.5 911.8V863.0M256.5 908.4V858.4M259.5 900.8V843.7M261.5 928.2V874.0M263.5 926.3V895.3M267.5 866.3V736.0M268.5 878.5V855.9M271.5 941.0V873.4M272.5 937.1V865.6M273.5 938.2V905.5M279.5 941.5V936.8M281.5 939.6V938.6M287.5 941.1V925.2M296.5 907.3V896.5M297.5 913.2V838.4M300.5 917.9V890.6M301.5 930.9V857.5M303.5 937.6V928.4M304.5 935.2V902.2M306.5 937.8V919.2M307.5 933.3V915.2M310.5 923.6V862.3M315.5 912.2V898.4M317.5 905.2V877.3M330.5 884.6V860.8M331.5 866.2V838.4M334.5 878.8V865.3M342.5 913.4V865.7M343.5 914.2V851.6M346.5 912.1V904.5M347.5 912.3V839.0M351.5 910.0V858.2M355.5 922.1V914.3M358.5 910.6V841.4M359.5 910.8V845.3M360.5 876.3V855.2M369.5 891.3V843.8M371.5 912.9V856.0M375.5 900.5V874.3M381.5 888.0V830.7M384.5 890.4V861.0M385.5 912.9V874.1M386.5 907.4V812.5M387.5 912.9V812.0M389.5 932.2V894.4M394.5 882.9V881.5M402.5 912.2V752.0M403.5 921.8V869.5M404.5 930.8V891.8M405.5 904.1V869.0M411.5 907.1V861.9M412.5 898.8V891.5M413.5 889.2V878.5M414.5 896.2V840.6M417.5 886.0V847.4M418.5 855.1V783.0M422.5 893.1V849.7M428.5 867.9V813.8M430.5 870.9V851.0M431.5 883.8V862.5M437.5 886.9V860.6M440.5 894.3V870.5M444.5 901.6V851.0M449.5 893.3V846.3M450.5 895.6V856.3M451.5 900.3V847.6M455.5 896.7V843.3M458.5 874.6V810.0M465.5 910.3V849.2M467.5 895.6V874.0M470.5 886.8V850.5M473.5 915.9V905.7M474.5 904.3V887.5M485.5 866.9V861.4M490.5 883.2V847.0M491.5 916.1V824.0M493.5 888.6V855.7M494.5 893.0V859.5M495.5 908.4V844.3M503.5 842.9V840.1M508.5 938.4V907.0"/>
<path stroke="#000000" stroke-width="1" fill="none" d="M126.5 947.9V939.9M127.5 947.9V923.8M128.5 947.9V916.5M129.5 947.9V927.8M130.5 947.9V924.4M131.5 947.9V927.0M132.5 947.9V926.6M133.5 947.9V926.0M134.5 947.9V926.0M135.5 947.9V922.0M136.5 947.9V917.6M137.5 947.9V920.3M138.5 947.9V925.1M139.5 947.9V919.9M140.5 947.9V926.2M141.5 947.9V915.0M142.5 947.9V909.8M143.5 947.9V916.3M144.5 947.9V917.4M145.5 947.9V914.9M146.5 947.9V917.5M147.5 947.9V913.5M148.5 947.9V923.2M149.5 947.9V914.1M150.5 947.9V934.7M151.5 947.9V926.6M152.5 947.9V928.1M153.5 947.9V926.1M154.5 947.9V925.0M155.5 947.9V918.6M156.5 947.9V921.3M157.5 947.9V925.5M158.5 947.9V913.4M159.5 947.9V932.8M160.5 947.9V937.2M161.5 947.9V928.5M162.5 947.9V932.6M163.5 947.9V930.7M164.5 947.9V926.6M165.5 947.9V917.9M166.5 947.9V932.2M167.5 947.9V911.4M168.5 947.9V913.8M169.5 947.9V909.5M170.5 947.9V914.2M171.5 947.9V917.5M172.5 947.9V906.7M173.5 947.9V918.1M174.5 947.9V918.5M175.5 947.9V916.1M176.5 947.9V918.0M177.5 947.9V922.0M178.5 947.9V926.5M179.5 947.9V912.6M180.5 947.9V910.1M181.5 947.9V912.1M182.5 947.9V906.8M183.5 947.9V915.2M184.5 947.9V908.0M185.5 947.9V903.1M186.5 947.9V901.1M187.5 947.9V900.8M188.5 947.9V898.6M189.5 947.9V888.0M190.5 947.9V884.9M191.5 947.9V862.6M192.5 947.9V864.5M193.5 947.9V849.1M194.5 947.9V885.1M195.5 947.9V860.5M196.5 947.9V875.3M197.5 947.9V893.6M198.5 947.9V855.3M199.5 947.9V853.8M200.5 947.9V862.2M201.5 947.9V875.0M202.5 947.9V885.8M203.5 947.9V870.6M204.5 947.9V874.8M205.5 947.9V878.3M206.5 947.9V871.3M207.5 947.9V908.8M208.5 947.9V901.1M209.5 947.9V892.0M210.5 947.9V916.6M211.5 947.9V913.9M212.5 947.9V887.7M213.5 947.9V879.1M214.5 947.9V896.2M215.5 947.9V905.3M216.5 947.9V863.6M217.5 947.9V884.5M218.5 947.9V880.8M219.5 947.9V891.4M220.5 947.9V900.1M221.5 947.9V890.2M222.5 947.9V896.9M223.5 947.9V901.9M224.5 947.9V885.3M225.5 947.9V894.2M226.5 947.9V900.5M227.5 947.9V883.3M228.5 947.9V873.4M229.5 947.9V879.5M230.5 947.9V885.1M231.5 947.9V894.2M232.5 947.9V891.7M233.5 947.9V894.7M234.5 947.9V865.9M235.5 947.9V888.5M236.5 947.9V891.8M237.5 947.9V888.6M238.5 947.9V907.5M239.5 947.9V892.9M240.5 947.9V886.8M241.5 947.9V891.8M242.5 947.9V893.1M243.5 947.9V901.3M244.5 947.9V906.1M245.5 947.9V916.9M246.5 947.9V909.8M247.5 947.9V909.0M248.5 947.9V913.9M249.5 947.9V902.8M250.5 947.9V922.3M251.5 947.9V923.0M252.5 947.9V919.3M253.5 947.9V911.8M254.5 947.9V915.2M255.5 947.9V923.3M256.5 947.9V908.4M257.5 947.9V877.8M258.5 947.9V899.9M259.5 947.9V900.8M260.5 947.9V907.2M261.5 947.9V928.2M262.5 947.9V924.8M263.5 947.9V926.3M264.5 947.9V914.0M265.5 947.9V910.3M266.5 947.9V912.9M267.5 947.9V866.3M268.5 947.9V878.5M269.5 947.9V938.5M270.5 947.9V939.0M271.5 947.9V941.0M272.5 947.9V937.1M273.5 947.9V938.2M274.5 947.9V938.9M275.5 947.9V939.4M276.5 947.9V940.2M277.5 947.9V940.0M278.5 947.9V941.2M279.5 947.9V941.5M280.5 947.9V941.2M281.5 947.9V939.6M282.5 947.9V941.3M283.5 947.9V939.6M284.5 947.9V937.9M285.5 947.9V939.4M286.5 947.9V940.5M287.5 947.9V941.1M288.5 947.9V873.4M289.5 947.9V859.1M290.5 947.9V861.2M291.5 947.9V823.9M292.5 947.9V845.3M293.5 947.9V878.9M294.5 947.9V882.7M295.5 947.9V900.5M296.5 947.9V907.3M297.5 947.9V913.2M298.5 947.9V914.0M299.5 947.9V926.5M300.5 947.9V917.9M301.5 947.9V930.9M302.5 947.9V932.2M303.5 947.9V937.6M304.5 947.9V935.2M305.5 947.9V934.7M306.5 947.9V937.8M307.5 947.9V933.3M308.5 947.9V932.3M309.5 947.9V930.2M310.5 947.9V923.6M311.5 947.9V922.2M312.5 947.9V909.6M313.5 947.9V910.8M314.5 947.9V906.5M315.5 947.9V912.2M316.5 947.9V914.7M317.5 947.9V905.2M318.5 947.9V892.2M319.5 947.9V896.7M320.5 947.9V888.2M321.5 947.9V892.4M322.5 947.9V894.3M323.5 947.9V883.7M324.5 947.9V890.3M325.5 947.9V900.5M326.5 947.9V902.3M327.5 947.9V893.7M328.5 947.9V896.3M329.5 947.9V914.7M330.5 947.9V884.6M331.5 947.9V866.2M332.5 947.9V862.7M333.5 947.9V864.5M334.5 947.9V878.8M335.5 947.9V890.3M336.5 947.9V894.5M337.5 947.9V866.0M338.5 947.9V889.5M339.5 947.9V872.5M340.5 947.9V903.3M341.5 947.9V919.7M342.5 947.9V913.4M343.5 947.9V914.2M344.5 947.9V918.2M345.5 947.9V922.9M346.5 947.9V912.1M347.5 947.9V912.3M348.5 947.9V924.3M349.5 947.9V921.7M350.5 947.9V926.4M351.5 947.9V910.0M352.5 947.9V908.3M353.5 947.9V909.0M354.5 947.9V923.0M355.5 947.9V922.1M356.5 947.9V918.2M357.5 947.9V918.9M358.5 947.9V910.6M359.5 947.9V910.8M360.5 947.9V876.3M361.5 947.9V866.6M362.5 947.9V885.9M363.5 947.9V896.4M364.5 947.9V899.3M365.5 947.9V899.2M366.5 947.9V899.7M367.5 947.9V890.8M368.5 947.9V906.0M369.5 947.9V891.3M370.5 947.9V903.4M371.5 947.9V912.9M372.5 947.9V916.4M373.5 947.9V905.9M374.5 947.9V905.3M375.5 947.9V900.5M376.5 947.9V916.2M377.5 947.9V884.5M378.5 947.9V871.3M379.5 947.9V892.0M380.5 947.9V883.3M381.5 947.9V888.0M382.5 947.9V902.1M383.5 947.9V904.4M384.5 947.9V890.4M385.5 947.9V912.9M386.5 947.9V907.4M387.5 947.9V912.9M388.5 947.9V912.9M389.5 947.9V932.2M390.5 947.9V917.8M391.5 947.9V901.5M392.5 947.9V901.7M393.5 947.9V904.0M394.5 947.9V882.9M395.5 947.9V878.2M396.5 947.9V882.5M397.5 947.9V891.0M398.5 947.9V902.3M399.5 947.9V899.9M400.5 947.9V907.5M401.5 947.9V915.3M402.5 947.9V912.2M403.5 947.9V921.8M404.5 947.9V930.8M405.5 947.9V904.1M406.5 947.9V914.9M407.5 947.9V906.7M408.5 947.9V926.1M409.5 947.9V908.9M410.5 947.9V906.7M411.5 947.9V907.1M412.5 947.9V898.8M413.5 947.9V889.2M414.5 947.9V896.2M415.5 947.9V879.1M416.5 947.9V914.6M417.5 947.9V886.0M418.5 947.9V855.1M419.5 947.9V874.8M420.5 947.9V832.6M421.5 947.9V858.5M422.5 947.9V893.1M423.5 947.9V909.0M424.5 947.9V940.9M425.5 947.9V929.6M426.5 947.9V905.4M427.5 947.9V867.8M428.5 947.9V867.9M429.5 947.9V876.5M430.5 947.9V870.9M431.5 947.9V883.8M432.5 947.9V900.4M433.5 947.9V898.7M434.5 947.9V876.6M435.5 947.9V899.6M436.5 947.9V884.3M437.5 947.9V886.9M438.5 947.9V906.4M439.5 947.9V897.1M440.5 947.9V894.3M441.5 947.9V898.6M442.5 947.9V905.6M443.5 947.9V912.6M444.5 947.9V901.6M445.5 947.9V900.1M446.5 947.9V923.0M447.5 947.9V888.5M448.5 947.9V887.8M449.5 947.9V893.3M450.5 947.9V895.6M451.5 947.9V900.3M452.5 947.9V909.4M453.5 947.9V899.1M454.5 947.9V907.4M455.5 947.9V896.7M456.5 947.9V905.5M457.5 947.9V884.6M458.5 947.9V874.6M459.5 947.9V878.5M460.5 947.9V892.2M461.5 947.9V881.1M462.5 947.9V892.0M463.5 947.9V899.7M464.5 947.9V896.4M465.5 947.9V910.3M466.5 947.9V915.5M467.5 947.9V895.6M468.5 947.9V867.1M469.5 947.9V863.0M470.5 947.9V886.8M471.5 947.9V904.2M472.5 947.9V912.8M473.5 947.9V915.9M474.5 947.9V904.3M475.5 947.9V900.8M476.5 947.9V898.4M477.5 947.9V910.7M478.5 947.9V929.6M479.5 947.9V915.6M480.5 947.9V885.0M481.5 947.9V881.0M482.5 947.9V882.9M483.5 947.9V883.6M484.5 947.9V882.5M485.5 947.9V866.9M486.5 947.9V889.0M487.5 947.9V896.9M488.5 947.9V876.1M489.5 947.9V897.5M490.5 947.9V883.2M491.5 947.9V916.1M492.5 947.9V866.0M493.5 947.9V888.6M494.5 947.9V893.0M495.5 947.9V908.4M496.5 947.9V895.5M497.5 947.9V900.2M498.5 947.9V886.4M499.5 947.9V874.1M500.5 947.9V866.5M501.5 947.9V838.1M502.5 947.9V842.2M503.5 947.9V842.9M504.5 947.9V826.0M505.5 947.9V935.1M506.5 947.9V933.7M507.5 947.9V939.0M508.5 947.9V938.4M509.5 947.9V939.7M510.5 947.9V942.1M511.5 947.9V943.8M512.5 947.9V944.8M513.5 947.9V946.0"/>
<path stroke="#4a4aff" stroke-width="1.2" fill="none" d="M129.5 928.5V806.2M130.5 923.6V901.3M132.5 921.7V598.0M135.5 919.9V741.0M145.5 917.9V824.0M148.5 920.9V886.3M149.5 921.3V820.4M151.5 928.3V673.0M153.5 925.9V898.5M154.5 925.2V840.0M155.5 922.9V832.4M159.5 934.2V907.6M160.5 934.9V851.7M161.5 927.5V923.2M162.5 933.1V780.2M163.5 931.6V912.9M168.5 917.5V815.4M173.5 908.7V851.0M174.5 918.3V710.0M177.5 916.9V854.3M180.5 907.9V851.5M181.5 906.7V803.0M184.5 909.9V785.2M189.5 896.0V862.6M190.5 889.8V822.8M192.5 868.1V759.0M194.5 882.2V856.5M197.5 890.1V837.0M201.5 875.7V783.9M213.5 880.3V844.9M214.5 883.3V818.5M218.5 877.2V785.9M219.5 893.0V883.5M220.5 900.4V846.4M221.5 894.5V850.5M222.5 891.7V850.1M224.5 892.9V850.0M225.5 892.2V818.5M227.5 891.0V869.2M229.5 883.5V872.8M232.5 889.9V857.7M236.5 886.9V798.5M237.5 884.8V847.4M249.5 906.9V847.7M250.5 923.2V913.3M256.5 904.9V848.0M259.5 896.9V861.0M261.5 924.4V884.6M263.5 923.9V878.0M266.5 914.1V857.0M268.5 879.8V586.3M270.5 940.3V915.0M271.5 941.0V868.4M272.5 938.7V879.6M273.5 938.8V886.9M274.5 940.4V922.0M277.5 940.6V885.0M279.5 940.7V939.3M280.5 940.1V896.0M281.5 941.3V933.5M283.5 939.4V921.0M286.5 939.4V918.0M287.5 939.7V928.0M290.5 853.0V789.2M295.5 896.7V855.0M296.5 904.6V904.3M297.5 910.7V709.0M300.5 923.2V897.8M301.5 929.4V865.3M303.5 934.7V927.4M304.5 935.7V886.3M306.5 936.4V916.6M307.5 934.3V915.1M310.5 926.4V874.1M312.5 904.8V867.0M315.5 912.4V910.6M317.5 903.8V892.1M318.5 898.3V855.7M320.5 893.1V863.7M324.5 896.9V849.7M330.5 888.1V851.2M331.5 875.6V855.7M334.5 885.0V865.0M335.5 883.0V815.0M340.5 905.5V805.8M343.5 915.3V823.5M346.5 916.4V898.7M347.5 912.4V845.0M351.5 911.3V873.2M355.5 925.8V908.2M358.5 906.4V852.4M359.5 904.5V843.4M360.5 894.1V866.8M366.5 908.1V866.0M367.5 902.4V894.4M369.5 895.0V849.9M371.5 915.4V845.4M372.5 919.2V873.0M375.5 900.0V886.1M377.5 887.3V827.8M380.5 880.1V837.0M381.5 891.7V859.2M384.5 898.5V843.3M385.5 910.8V866.6M386.5 912.7V833.8M387.5 913.2V833.0M389.5 934.4V893.5M393.5 907.4V857.7M394.5 887.1V846.2M402.5 913.4V757.0M403.5 917.6V871.2M404.5 930.5V897.5M405.5 911.5V864.7M408.5 923.8V845.0M409.5 909.8V845.0M410.5 912.6V844.4M411.5 908.2V845.0M412.5 896.1V754.0M413.5 893.1V864.0M414.5 890.7V858.8M415.5 887.5V586.3M417.5 876.4V860.5M418.5 853.0V795.0M420.5 847.6V829.0M427.5 874.6V857.0M428.5 860.6V814.0M431.5 880.3V847.0M435.5 898.8V843.7M437.5 883.6V863.4M440.5 890.4V862.0M444.5 907.2V834.1M446.5 921.6V797.8M449.5 882.6V856.2M450.5 897.7V866.5M451.5 902.1V860.5M455.5 896.0V857.2M458.5 883.2V830.0M465.5 906.7V863.1M467.5 896.1V863.1M469.5 864.2V817.0M470.5 887.0V858.1M473.5 915.3V886.1M484.5 876.4V825.8M485.5 875.6V857.1M487.5 892.3V800.0M488.5 884.2V586.3M490.5 884.4V852.9M491.5 912.1V830.0M494.5 900.5V861.5M495.5 903.7V847.9M497.5 896.6V859.0M498.5 883.1V835.0M499.5 877.8V837.0M503.5 826.3V586.3M508.5 938.9V915.0"/>
<path stroke="#2a2aff" stroke-width="1" fill="none" d=""/>
<path stroke="#0000ff" stroke-width="1" fill="none" d="M126.5 947.9V940.6M127.5 947.9V921.2M128.5 947.9V914.4M129.5 947.9V928.5M130.5 947.9V923.6M131.5 947.9V924.0M132.5 947.9V921.7M133.5 947.9V921.4M134.5 947.9V920.4M135.5 947.9V919.9M136.5 947.9V918.1M137.5 947.9V918.8M138.5 947.9V921.6M139.5 947.9V921.9M140.5 947.9V925.3M141.5 947.9V918.5M142.5 947.9V917.9M143.5 947.9V918.9M144.5 947.9V918.7M145.5 947.9V917.9M146.5 947.9V918.2M147.5 947.9V917.4M148.5 947.9V920.9M149.5 947.9V921.3M150.5 947.9V935.3M151.5 947.9V928.3M152.5 947.9V926.2M153.5 947.9V925.9M154.5 947.9V925.2M155.5 947.9V922.9M156.5 947.9V922.4M157.5 947.9V923.2M158.5 947.9V923.2M159.5 947.9V934.2M160.5 947.9V934.9M161.5 947.9V927.5M162.5 947.9V933.1M163.5 947.9V931.6M164.5 947.9V928.3M165.5 947.9V921.8M166.5 947.9V932.2M167.5 947.9V917.2M168.5 947.9V917.5M169.5 947.9V912.6M170.5 947.9V913.0M171.5 947.9V916.6M172.5 947.9V909.2M173.5 947.9V908.7M174.5 947.9V918.3M175.5 947.9V920.9M176.5 947.9V921.8M177.5 947.9V916.9M178.5 947.9V924.7M179.5 947.9V916.1M180.5 947.9V907.9M181.5 947.9V906.7M182.5 947.9V908.7M183.5 947.9V907.5M184.5 947.9V909.9M185.5 947.9V903.8M186.5 947.9V896.3M187.5 947.9V895.3M188.5 947.9V895.6M189.5 947.9V896.0M190.5 947.9V889.8M191.5 947.9V875.9M192.5 947.9V868.1M193.5 947.9V868.1M194.5 947.9V882.2M195.5 947.9V877.5M196.5 947.9V888.3M197.5 947.9V890.1M198.5 947.9V864.0M199.5 947.9V861.8M200.5 947.9V863.9M201.5 947.9V875.7M202.5 947.9V879.1M203.5 947.9V877.0M204.5 947.9V875.5M205.5 947.9V875.3M206.5 947.9V883.6M207.5 947.9V901.8M208.5 947.9V896.6M209.5 947.9V885.0M210.5 947.9V916.5M211.5 947.9V914.0M212.5 947.9V886.4M213.5 947.9V880.3M214.5 947.9V883.3M215.5 947.9V909.9M216.5 947.9V868.6M217.5 947.9V877.2M218.5 947.9V877.2M219.5 947.9V893.0M220.5 947.9V900.4M221.5 947.9V894.5M222.5 947.9V891.7M223.5 947.9V893.6M224.5 947.9V892.9M225.5 947.9V892.2M226.5 947.9V895.2M227.5 947.9V891.0M228.5 947.9V884.6M229.5 947.9V883.5M230.5 947.9V884.0M231.5 947.9V893.1M232.5 947.9V889.9M233.5 947.9V888.4M234.5 947.9V885.1M235.5 947.9V889.1M236.5 947.9V886.9M237.5 947.9V884.8M238.5 947.9V902.5M239.5 947.9V893.2M240.5 947.9V891.6M241.5 947.9V898.3M242.5 947.9V898.6M243.5 947.9V899.6M244.5 947.9V909.5M245.5 947.9V917.5M246.5 947.9V907.8M247.5 947.9V914.6M248.5 947.9V910.7M249.5 947.9V906.9M250.5 947.9V923.2M251.5 947.9V922.4M252.5 947.9V912.0M253.5 947.9V913.4M254.5 947.9V913.4M255.5 947.9V922.7M256.5 947.9V904.9M257.5 947.9V888.9M258.5 947.9V895.8M259.5 947.9V896.9M260.5 947.9V904.8M261.5 947.9V924.4M262.5 947.9V921.0M263.5 947.9V923.9M264.5 947.9V918.6M265.5 947.9V915.3M266.5 947.9V914.1M267.5 947.9V869.8M268.5 947.9V879.8M269.5 947.9V940.5M270.5 947.9V940.3M271.5 947.9V941.0M272.5 947.9V938.7M273.5 947.9V938.8M274.5 947.9V940.4M275.5 947.9V939.5M276.5 947.9V940.7M277.5 947.9V940.6M278.5 947.9V941.4M279.5 947.9V940.7M280.5 947.9V940.1M281.5 947.9V941.3M282.5 947.9V940.9M283.5 947.9V939.4M284.5 947.9V939.5M285.5 947.9V940.0M286.5 947.9V939.4M287.5 947.9V939.7M288.5 947.9V877.3M289.5 947.9V864.6M290.5 947.9V853.0M291.5 947.9V841.0M292.5 947.9V853.0M293.5 947.9V877.3M294.5 947.9V887.0M295.5 947.9V896.7M296.5 947.9V904.6M297.5 947.9V910.7M298.5 947.9V916.9M299.5 947.9V921.0M300.5 947.9V923.2M301.5 947.9V929.4M302.5 947.9V929.1M303.5 947.9V934.7M304.5 947.9V935.7M305.5 947.9V935.6M306.5 947.9V936.4M307.5 947.9V934.3M308.5 947.9V932.8M309.5 947.9V931.9M310.5 947.9V926.4M311.5 947.9V914.2M312.5 947.9V904.8M313.5 947.9V907.3M314.5 947.9V904.7M315.5 947.9V912.4M316.5 947.9V909.2M317.5 947.9V903.8M318.5 947.9V898.3M319.5 947.9V897.6M320.5 947.9V893.1M321.5 947.9V902.5M322.5 947.9V900.2M323.5 947.9V897.6M324.5 947.9V896.9M325.5 947.9V898.3M326.5 947.9V904.2M327.5 947.9V899.0M328.5 947.9V896.2M329.5 947.9V920.8M330.5 947.9V888.1M331.5 947.9V875.6M332.5 947.9V870.2M333.5 947.9V870.2M334.5 947.9V885.0M335.5 947.9V883.0M336.5 947.9V892.5M337.5 947.9V875.1M338.5 947.9V878.3M339.5 947.9V888.2M340.5 947.9V905.5M341.5 947.9V914.6M342.5 947.9V914.3M343.5 947.9V915.3M344.5 947.9V922.5M345.5 947.9V920.3M346.5 947.9V916.4M347.5 947.9V912.4M348.5 947.9V928.9M349.5 947.9V912.4M350.5 947.9V925.8M351.5 947.9V911.3M352.5 947.9V909.7M353.5 947.9V916.0M354.5 947.9V915.7M355.5 947.9V925.8M356.5 947.9V919.7M357.5 947.9V915.7M358.5 947.9V906.4M359.5 947.9V904.5M360.5 947.9V894.1M361.5 947.9V885.9M362.5 947.9V886.8M363.5 947.9V892.1M364.5 947.9V896.5M365.5 947.9V897.0M366.5 947.9V908.1M367.5 947.9V902.4M368.5 947.9V906.1M369.5 947.9V895.0M370.5 947.9V894.4M371.5 947.9V915.4M372.5 947.9V919.2M373.5 947.9V896.0M374.5 947.9V901.1M375.5 947.9V900.0M376.5 947.9V924.1M377.5 947.9V887.3M378.5 947.9V883.4M379.5 947.9V881.7M380.5 947.9V880.1M381.5 947.9V891.7M382.5 947.9V895.6M383.5 947.9V894.4M384.5 947.9V898.5M385.5 947.9V910.8M386.5 947.9V912.7M387.5 947.9V913.2M388.5 947.9V918.2M389.5 947.9V934.4M390.5 947.9V920.6M391.5 947.9V909.1M392.5 947.9V894.2M393.5 947.9V907.4M394.5 947.9V887.1M395.5 947.9V881.9M396.5 947.9V881.3M397.5 947.9V890.9M398.5 947.9V893.8M399.5 947.9V893.7M400.5 947.9V901.9M401.5 947.9V913.1M402.5 947.9V913.4M403.5 947.9V917.6M404.5 947.9V930.5M405.5 947.9V911.5M406.5 947.9V909.4M407.5 947.9V911.0M408.5 947.9V923.8M409.5 947.9V909.8M410.5 947.9V912.6M411.5 947.9V908.2M412.5 947.9V896.1M413.5 947.9V893.1M414.5 947.9V890.7M415.5 947.9V887.5M416.5 947.9V908.3M417.5 947.9V876.4M418.5 947.9V853.0M419.5 947.9V857.0M420.5 947.9V847.6M421.5 947.9V846.2M422.5 947.9V878.4M423.5 947.9V911.6M424.5 947.9V940.9M425.5 947.9V929.0M426.5 947.9V900.3M427.5 947.9V874.6M428.5 947.9V860.6M429.5 947.9V859.9M430.5 947.9V878.0M431.5 947.9V880.3M432.5 947.9V897.7M433.5 947.9V902.2M434.5 947.9V900.7M435.5 947.9V898.8M436.5 947.9V891.2M437.5 947.9V883.6M438.5 947.9V894.9M439.5 947.9V890.9M440.5 947.9V890.4M441.5 947.9V905.3M442.5 947.9V902.2M443.5 947.9V912.2M444.5 947.9V907.2M445.5 947.9V901.1M446.5 947.9V921.6M447.5 947.9V879.9M448.5 947.9V878.0M449.5 947.9V882.6M450.5 947.9V897.7M451.5 947.9V902.1M452.5 947.9V906.2M453.5 947.9V903.9M454.5 947.9V902.8M455.5 947.9V896.0M456.5 947.9V893.9M457.5 947.9V883.2M458.5 947.9V883.2M459.5 947.9V883.2M460.5 947.9V886.9M461.5 947.9V887.5M462.5 947.9V890.4M463.5 947.9V901.5M464.5 947.9V898.3M465.5 947.9V906.7M466.5 947.9V916.2M467.5 947.9V896.1M468.5 947.9V864.8M469.5 947.9V864.2M470.5 947.9V887.0M471.5 947.9V905.1M472.5 947.9V911.9M473.5 947.9V915.3M474.5 947.9V909.0M475.5 947.9V900.5M476.5 947.9V901.9M477.5 947.9V908.7M478.5 947.9V929.8M479.5 947.9V915.2M480.5 947.9V894.8M481.5 947.9V881.3M482.5 947.9V880.9M483.5 947.9V875.6M484.5 947.9V876.4M485.5 947.9V875.6M486.5 947.9V879.8M487.5 947.9V892.3M488.5 947.9V884.2M489.5 947.9V892.8M490.5 947.9V884.4M491.5 947.9V912.1M492.5 947.9V875.3M493.5 947.9V885.6M494.5 947.9V900.5M495.5 947.9V903.7M496.5 947.9V906.3M497.5 947.9V896.6M498.5 947.9V883.1M499.5 947.9V877.8M500.5 947.9V843.0M501.5 947.9V839.2M502.5 947.9V836.7M503.5 947.9V826.3M504.5 947.9V804.4M505.5 947.9V934.3M506.5 947.9V933.3M507.5 947.9V936.9M508.5 947.9V938.9M509.5 947.9V940.0M510.5 947.9V942.7M511.5 947.9V943.1M512.5 947.9V944.4M513.5 947.9V945.7"/>
<path d="M110.8 953.8V586.0H530.5V953.8" fill="none" stroke="#1a1a1a" stroke-width="1.4"/>
<line x1="103" y1="600.30" x2="110.8" y2="600.30" stroke="#333" stroke-width="1.3"/>
<text x="100.5" y="606.70" text-anchor="end" font-size="18.5">2000</text>
<line x1="103" y1="687.15" x2="110.8" y2="687.15" stroke="#333" stroke-width="1.3"/>
<text x="100.5" y="693.55" text-anchor="end" font-size="18.5">1500</text>
<line x1="103" y1="774.00" x2="110.8" y2="774.00" stroke="#333" stroke-width="1.3"/>
<text x="100.5" y="780.40" text-anchor="end" font-size="18.5">1000</text>
<line x1="103" y1="860.85" x2="110.8" y2="860.85" stroke="#333" stroke-width="1.3"/>
<text x="100.5" y="867.25" text-anchor="end" font-size="18.5">500</text>
<line x1="103" y1="947.70" x2="110.8" y2="947.70" stroke="#333" stroke-width="1.3"/>
<text x="100.5" y="954.10" text-anchor="end" font-size="18.5">0</text>
<text transform="translate(51 781.3) rotate(-90)" text-anchor="middle" font-size="24.6" font-weight="bold">Counts</text>
<rect x="153.2" y="574.1999999999999" width="7.1" height="7.1" fill="#ff0000"/>
<text x="163" y="581.5" font-size="16" font-weight="bold">Replicate 1</text>
<rect x="269.8" y="574.1999999999999" width="7.1" height="7.1" fill="#000"/>
<text x="279.8" y="581.5" font-size="16" font-weight="bold">Replicate 2</text>
<rect x="387.4" y="574.1999999999999" width="7.1" height="7.1" fill="#0000ff"/>
<text x="396.8" y="581.5" font-size="16" font-weight="bold">Replicate 3</text>
<text x="284.3" y="560" font-size="27.8" font-weight="bold" font-style="italic">spt4</text><path d="M343.4 559.2L351 542.8L358.6 559.2Z" fill="none" stroke="#000" stroke-width="1.7" stroke-linejoin="miter"/>
<rect x="126" y="953.5999999999999" width="39.4" height="18.2" fill="#cdcecf" stroke="#7a7a7a" stroke-width="1"/>
<rect x="268.1" y="953.5999999999999" width="21.3" height="18.2" fill="#cdcecf" stroke="#7a7a7a" stroke-width="1"/>
<rect x="297.9" y="953.5999999999999" width="13.4" height="18.2" fill="#cdcecf" stroke="#7a7a7a" stroke-width="1"/>
<rect x="503.2" y="953.5999999999999" width="12.6" height="18.2" fill="#cdcecf" stroke="#7a7a7a" stroke-width="1"/>
<rect x="165.4" y="950.9" width="102.7" height="23.4" fill="#184b3b" stroke="#2e4a40" stroke-width="0.8"/>
<rect x="289.4" y="950.9" width="8.5" height="23.4" fill="#184b3b" stroke="#2e4a40" stroke-width="0.8"/>
<rect x="311.3" y="950.9" width="191.9" height="23.4" fill="#184b3b" stroke="#2e4a40" stroke-width="0.8"/>
<line x1="146.6" y1="974.8" x2="146.6" y2="985.0" stroke="#333" stroke-width="1.3"/>
<line x1="214.2" y1="974.8" x2="214.2" y2="985.0" stroke="#333" stroke-width="1.3"/>
<line x1="293.2" y1="974.8" x2="293.2" y2="985.0" stroke="#333" stroke-width="1.3"/>
<line x1="407.2" y1="974.8" x2="407.2" y2="985.0" stroke="#333" stroke-width="1.3"/>
<line x1="508.8" y1="974.8" x2="508.8" y2="985.0" stroke="#333" stroke-width="1.3"/>
<line x1="278" y1="974.5999999999999" x2="267.8" y2="984.9" stroke="#333" stroke-width="1.3"/>
<line x1="304.7" y1="974.5999999999999" x2="314.9" y2="984.9" stroke="#333" stroke-width="1.3"/>
<text x="146.1" y="998.8" text-anchor="middle" font-size="14.4" font-weight="bold">ETS1</text>
<text x="216.2" y="998.8" text-anchor="middle" font-size="14.4" font-weight="bold">18S</text>
<text x="256.2" y="998.8" text-anchor="middle" font-size="14.4" font-weight="bold">ITS1</text>
<text x="292.7" y="998.8" text-anchor="middle" font-size="14.4" font-weight="bold">5.8S</text>
<text x="331.6" y="998.8" text-anchor="middle" font-size="14.4" font-weight="bold">ITS2</text>
<text x="406.6" y="998.8" text-anchor="middle" font-size="14.4" font-weight="bold">25S</text>
<text x="509.1" y="998.8" text-anchor="middle" font-size="14.4" font-weight="bold">ETS2</text>
<rect x="255.4" y="1014.5" width="7" height="6.6" fill="#184b3b"/>
<text x="265.2" y="1021.3" font-size="16.2" font-weight="bold">Gene</text>
<rect x="324.3" y="1014.5" width="7.2" height="6.6" fill="#cdcecf"/>
<text x="334" y="1021.3" font-size="16.2" font-weight="bold">Spacer</text>
<text x="264.8" y="1047.1999999999998" font-size="24" font-weight="bold">35S Gene</text>
<text x="585" y="44.3" font-size="18.4" font-weight="bold">WT Spearman Correlation Coefficient Values:</text>
<rect x="682.7" y="145.2" width="99.30" height="93.30" fill="#63be7b"/>
<rect x="782" y="145.2" width="99.40" height="93.30" fill="#64be7b"/>
<rect x="881.4" y="145.2" width="99.60" height="93.30" fill="#65bf7b"/>
<rect x="682.7" y="238.5" width="99.30" height="93.20" fill="#64be7b"/>
<rect x="782" y="238.5" width="99.40" height="93.20" fill="#63be7b"/>
<rect x="881.4" y="238.5" width="99.60" height="93.20" fill="#64be7b"/>
<rect x="682.7" y="331.7" width="99.30" height="93.30" fill="#65bf7b"/>
<rect x="782" y="331.7" width="99.40" height="93.30" fill="#64be7b"/>
<rect x="881.4" y="331.7" width="99.60" height="93.30" fill="#63be7b"/>
<line x1="583.5" y1="52" x2="583.5" y2="425" stroke="#000" stroke-width="1.45"/>
<line x1="682.7" y1="52" x2="682.7" y2="425" stroke="#000" stroke-width="1.45"/>
<line x1="782" y1="52" x2="782" y2="425" stroke="#000" stroke-width="1.45"/>
<line x1="881.4" y1="52" x2="881.4" y2="425" stroke="#000" stroke-width="1.45"/>
<line x1="981" y1="52" x2="981" y2="425" stroke="#000" stroke-width="1.45"/>
<line x1="582.8" y1="52" x2="981.7" y2="52" stroke="#000" stroke-width="1.45"/>
<line x1="582.8" y1="145.2" x2="981.7" y2="145.2" stroke="#000" stroke-width="1.45"/>
<line x1="582.8" y1="238.5" x2="981.7" y2="238.5" stroke="#000" stroke-width="1.45"/>
<line x1="582.8" y1="331.7" x2="981.7" y2="331.7" stroke="#000" stroke-width="1.45"/>
<line x1="582.8" y1="425" x2="981.7" y2="425" stroke="#000" stroke-width="1.45"/>
<text x="732.35" y="105.10" text-anchor="middle" font-size="18" fill="#ff0000">1</text>
<text x="633.10" y="198.35" text-anchor="middle" font-size="18" fill="#ff0000">1</text>
<text x="831.70" y="105.10" text-anchor="middle" font-size="18" fill="#111">2</text>
<text x="633.10" y="291.60" text-anchor="middle" font-size="18" fill="#111">2</text>
<text x="931.20" y="105.10" text-anchor="middle" font-size="18" fill="#1537ff">3</text>
<text x="633.10" y="384.85" text-anchor="middle" font-size="18" fill="#1537ff">3</text>
<text x="732.35" y="198.35" text-anchor="middle" font-size="18" font-weight="bold">1</text>
<text x="831.70" y="198.35" text-anchor="middle" font-size="18" font-weight="bold">0.990</text>
<text x="931.20" y="198.35" text-anchor="middle" font-size="18" font-weight="bold">0.986</text>
<text x="732.35" y="291.60" text-anchor="middle" font-size="18" font-weight="bold">0.990</text>
<text x="831.70" y="291.60" text-anchor="middle" font-size="18" font-weight="bold">1</text>
<text x="931.20" y="291.60" text-anchor="middle" font-size="18" font-weight="bold">0.989</text>
<text x="732.35" y="384.85" text-anchor="middle" font-size="18" font-weight="bold">0.986</text>
<text x="831.70" y="384.85" text-anchor="middle" font-size="18" font-weight="bold">0.989</text>
<text x="931.20" y="384.85" text-anchor="middle" font-size="18" font-weight="bold">1</text>
<rect x="583.20" y="431.2" width="19.97" height="15.10" fill="#f8696b"/>
<rect x="602.17" y="431.2" width="19.97" height="15.10" fill="#f9766e"/>
<rect x="621.13" y="431.2" width="19.97" height="15.10" fill="#f98370"/>
<rect x="640.10" y="431.2" width="19.97" height="15.10" fill="#fa9072"/>
<rect x="659.07" y="431.2" width="19.97" height="15.10" fill="#fb9d75"/>
<rect x="678.03" y="431.2" width="19.97" height="15.10" fill="#fcaa78"/>
<rect x="697.00" y="431.2" width="19.97" height="15.10" fill="#fcb77a"/>
<rect x="715.97" y="431.2" width="19.97" height="15.10" fill="#fdc47c"/>
<rect x="734.93" y="431.2" width="19.97" height="15.10" fill="#fed17f"/>
<rect x="753.90" y="431.2" width="19.97" height="15.10" fill="#fede82"/>
<rect x="772.87" y="431.2" width="19.97" height="15.10" fill="#ffeb84"/>
<rect x="791.83" y="431.2" width="19.97" height="15.10" fill="#efe683"/>
<rect x="810.80" y="431.2" width="19.97" height="15.10" fill="#e0e282"/>
<rect x="829.77" y="431.2" width="19.97" height="15.10" fill="#d0de81"/>
<rect x="848.73" y="431.2" width="19.97" height="15.10" fill="#c1d980"/>
<rect x="867.70" y="431.2" width="19.97" height="15.10" fill="#b1d480"/>
<rect x="886.67" y="431.2" width="19.97" height="15.10" fill="#a1d07f"/>
<rect x="905.63" y="431.2" width="19.97" height="15.10" fill="#92cc7e"/>
<rect x="924.60" y="431.2" width="19.97" height="15.10" fill="#82c77d"/>
<rect x="943.57" y="431.2" width="19.97" height="15.10" fill="#73c27c"/>
<rect x="962.53" y="431.2" width="18.97" height="15.10" fill="#63be7b"/>
<rect x="582.7" y="455.90" width="8.3" height="1.9" fill="#000"/>
<text x="591.3000000000001" y="460.8" font-size="15.2" font-weight="bold">1</text>
<text x="980.8" y="460.8" text-anchor="end" font-size="15.2" font-weight="bold">1</text>
<text x="577" y="577.5" font-size="18.4" font-weight="bold"><tspan font-style="italic">spt4</tspan><tspan font-weight="normal" font-size="16.5">Δ</tspan> Spearman Correlation Coefficient Values:</text>
<rect x="682.8" y="677.7" width="98.40" height="92.50" fill="#63be7b"/>
<rect x="781.2" y="677.7" width="98.50" height="92.50" fill="#70c27e"/>
<rect x="879.7" y="677.7" width="98.80" height="92.50" fill="#72c27e"/>
<rect x="682.8" y="770.2" width="98.40" height="92.60" fill="#70c27e"/>
<rect x="781.2" y="770.2" width="98.50" height="92.60" fill="#63be7b"/>
<rect x="879.7" y="770.2" width="98.80" height="92.60" fill="#70c27e"/>
<rect x="682.8" y="862.8" width="98.40" height="92.10" fill="#72c27e"/>
<rect x="781.2" y="862.8" width="98.50" height="92.10" fill="#70c27e"/>
<rect x="879.7" y="862.8" width="98.80" height="92.10" fill="#63be7b"/>
<line x1="584" y1="585.9" x2="584" y2="954.9" stroke="#000" stroke-width="1.45"/>
<line x1="682.8" y1="585.9" x2="682.8" y2="954.9" stroke="#000" stroke-width="1.45"/>
<line x1="781.2" y1="585.9" x2="781.2" y2="954.9" stroke="#000" stroke-width="1.45"/>
<line x1="879.7" y1="585.9" x2="879.7" y2="954.9" stroke="#000" stroke-width="1.45"/>
<line x1="978.5" y1="585.9" x2="978.5" y2="954.9" stroke="#000" stroke-width="1.45"/>
<line x1="583.3" y1="585.9" x2="979.2" y2="585.9" stroke="#000" stroke-width="1.45"/>
<line x1="583.3" y1="677.7" x2="979.2" y2="677.7" stroke="#000" stroke-width="1.45"/>
<line x1="583.3" y1="770.2" x2="979.2" y2="770.2" stroke="#000" stroke-width="1.45"/>
<line x1="583.3" y1="862.8" x2="979.2" y2="862.8" stroke="#000" stroke-width="1.45"/>
<line x1="583.3" y1="954.9" x2="979.2" y2="954.9" stroke="#000" stroke-width="1.45"/>
<text x="732.00" y="638.30" text-anchor="middle" font-size="18" fill="#ff0000">1</text>
<text x="633.40" y="730.45" text-anchor="middle" font-size="18" fill="#ff0000">1</text>
<text x="830.45" y="638.30" text-anchor="middle" font-size="18" fill="#111">2</text>
<text x="633.40" y="823.00" text-anchor="middle" font-size="18" fill="#111">2</text>
<text x="929.10" y="638.30" text-anchor="middle" font-size="18" fill="#1537ff">3</text>
<text x="633.40" y="915.35" text-anchor="middle" font-size="18" fill="#1537ff">3</text>
<text x="732.00" y="730.45" text-anchor="middle" font-size="18" font-weight="bold">1</text>
<text x="830.45" y="730.45" text-anchor="middle" font-size="18" font-weight="bold">0.960</text>
<text x="929.10" y="730.45" text-anchor="middle" font-size="18" font-weight="bold">0.952</text>
<text x="732.00" y="823.00" text-anchor="middle" font-size="18" font-weight="bold">0.960</text>
<text x="830.45" y="823.00" text-anchor="middle" font-size="18" font-weight="bold">1</text>
<text x="929.10" y="823.00" text-anchor="middle" font-size="18" font-weight="bold">0.961</text>
<text x="732.00" y="915.35" text-anchor="middle" font-size="18" font-weight="bold">0.952</text>
<text x="830.45" y="915.35" text-anchor="middle" font-size="18" font-weight="bold">0.961</text>
<text x="929.10" y="915.35" text-anchor="middle" font-size="18" font-weight="bold">1</text>
<rect x="584.00" y="962.6" width="19.83" height="14.50" fill="#f8696b"/>
<rect x="602.83" y="962.6" width="19.83" height="14.50" fill="#f9766e"/>
<rect x="621.67" y="962.6" width="19.83" height="14.50" fill="#f98370"/>
<rect x="640.50" y="962.6" width="19.83" height="14.50" fill="#fa9072"/>
<rect x="659.33" y="962.6" width="19.83" height="14.50" fill="#fb9d75"/>
<rect x="678.17" y="962.6" width="19.83" height="14.50" fill="#fcaa78"/>
<rect x="697.00" y="962.6" width="19.83" height="14.50" fill="#fcb77a"/>
<rect x="715.83" y="962.6" width="19.83" height="14.50" fill="#fdc47c"/>
<rect x="734.67" y="962.6" width="19.83" height="14.50" fill="#fed17f"/>
<rect x="753.50" y="962.6" width="19.83" height="14.50" fill="#fede82"/>
<rect x="772.33" y="962.6" width="19.83" height="14.50" fill="#ffeb84"/>
<rect x="791.17" y="962.6" width="19.83" height="14.50" fill="#efe683"/>
<rect x="810.00" y="962.6" width="19.83" height="14.50" fill="#e0e282"/>
<rect x="828.83" y="962.6" width="19.83" height="14.50" fill="#d0de81"/>
<rect x="847.67" y="962.6" width="19.83" height="14.50" fill="#c1d980"/>
<rect x="866.50" y="962.6" width="19.83" height="14.50" fill="#b1d480"/>
<rect x="885.33" y="962.6" width="19.83" height="14.50" fill="#a1d07f"/>
<rect x="904.17" y="962.6" width="19.83" height="14.50" fill="#92cc7e"/>
<rect x="923.00" y="962.6" width="19.83" height="14.50" fill="#82c77d"/>
<rect x="941.83" y="962.6" width="19.83" height="14.50" fill="#73c27c"/>
<rect x="960.67" y="962.6" width="18.83" height="14.50" fill="#63be7b"/>
<rect x="583.5" y="986.40" width="8.3" height="1.9" fill="#000"/>
<text x="592.1" y="991.3" font-size="15.2" font-weight="bold">1</text>
<text x="978.8" y="991.3" text-anchor="end" font-size="15.2" font-weight="bold">1</text>
</svg>
</body></html>
